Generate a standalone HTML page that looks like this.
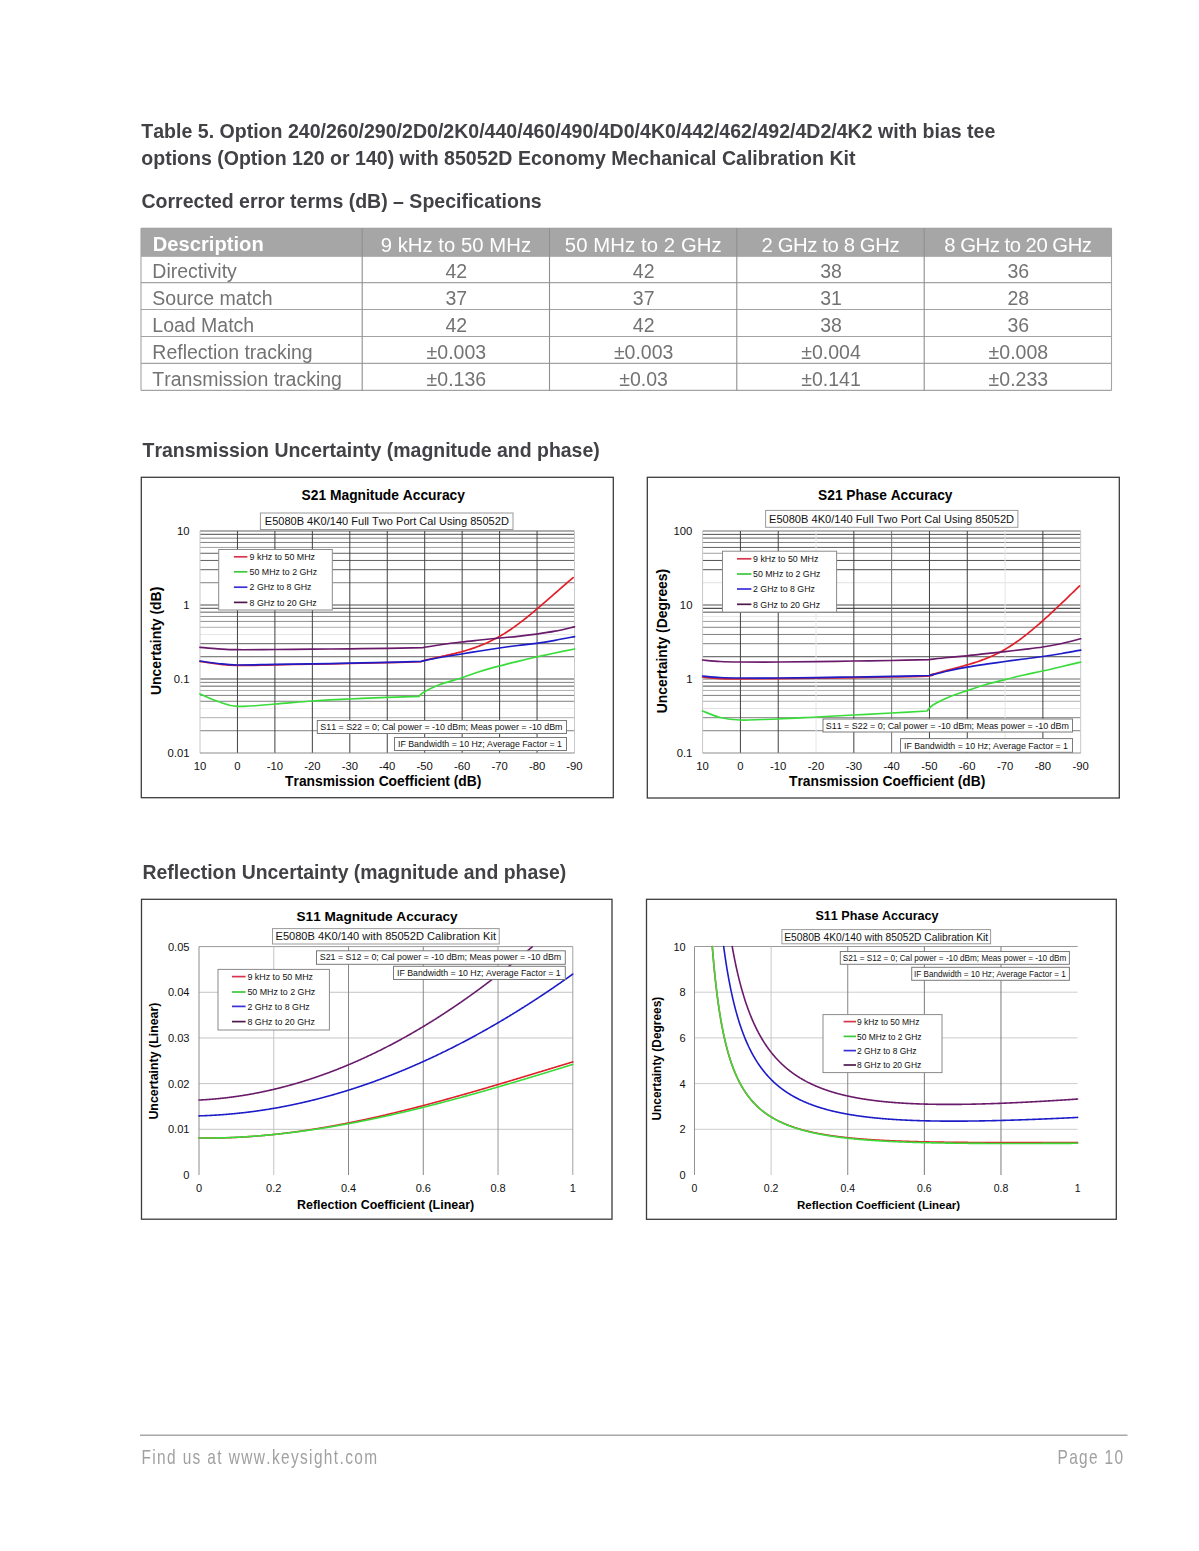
<!DOCTYPE html>
<html><head><meta charset="utf-8"><title>Keysight page 10</title>
<style>
html,body{margin:0;padding:0;background:#fff;}
body{width:1199px;height:1551px;overflow:hidden;}
svg{display:block;font-family:"Liberation Sans", sans-serif;filter:blur(0.35px);font-kerning:none;}
</style></head><body>
<svg width="1199" height="1551" viewBox="0 0 1199 1551">
<text x="141.30" y="137.80" font-size="19.561" font-weight="bold" fill="#414146" >Table 5. Option 240/260/290/2D0/2K0/440/460/490/4D0/4K0/442/462/492/4D2/4K2 with bias tee</text>
<text x="141.30" y="165.00" font-size="19.550" font-weight="bold" fill="#414146" >options (Option 120 or 140) with 85052D Economy Mechanical Calibration Kit</text>
<text x="141.50" y="208.00" font-size="19.532" font-weight="bold" fill="#414146" >Corrected error terms (dB) – Specifications</text>
<rect x="141.00" y="228.20" width="970.50" height="28.10" fill="#a6a6a6"/>
<line x1="141.00" y1="256.30" x2="1111.50" y2="256.30" stroke="#a3a3a3" stroke-width="1.1" />
<line x1="141.00" y1="282.60" x2="1111.50" y2="282.60" stroke="#a3a3a3" stroke-width="1.1" />
<line x1="141.00" y1="309.50" x2="1111.50" y2="309.50" stroke="#a3a3a3" stroke-width="1.1" />
<line x1="141.00" y1="336.50" x2="1111.50" y2="336.50" stroke="#a3a3a3" stroke-width="1.1" />
<line x1="141.00" y1="363.40" x2="1111.50" y2="363.40" stroke="#a3a3a3" stroke-width="1.1" />
<line x1="141.00" y1="390.40" x2="1111.50" y2="390.40" stroke="#a3a3a3" stroke-width="1.1" />
<line x1="141.00" y1="228.20" x2="1111.50" y2="228.20" stroke="#9c9c9c" stroke-width="1.1" />
<line x1="141.00" y1="228.20" x2="141.00" y2="390.40" stroke="#a3a3a3" stroke-width="1.1" />
<line x1="362.20" y1="228.20" x2="362.20" y2="390.40" stroke="#8f8f8f" stroke-width="1.1" />
<line x1="549.50" y1="228.20" x2="549.50" y2="390.40" stroke="#8f8f8f" stroke-width="1.1" />
<line x1="736.80" y1="228.20" x2="736.80" y2="390.40" stroke="#8f8f8f" stroke-width="1.1" />
<line x1="924.20" y1="228.20" x2="924.20" y2="390.40" stroke="#8f8f8f" stroke-width="1.1" />
<line x1="1111.50" y1="228.20" x2="1111.50" y2="390.40" stroke="#a3a3a3" stroke-width="1.1" />
<text x="152.80" y="251.00" font-size="20.182" font-weight="bold" fill="#fff" >Description</text>
<text x="380.70" y="251.50" font-size="20.300" font-weight="normal" fill="#fff"  textLength="150.32" lengthAdjust="spacing">9 kHz to 50 MHz</text>
<text x="564.80" y="251.50" font-size="20.300" font-weight="normal" fill="#fff"  textLength="156.88" lengthAdjust="spacing">50 MHz to 2 GHz</text>
<text x="761.50" y="251.50" font-size="20.300" font-weight="normal" fill="#fff"  textLength="138.15" lengthAdjust="spacing">2 GHz to 8 GHz</text>
<text x="944.30" y="251.50" font-size="20.300" font-weight="normal" fill="#fff"  textLength="147.67" lengthAdjust="spacing">8 GHz to 20 GHz</text>
<text x="152.30" y="278.00" font-size="19.500" font-weight="normal" fill="#737373" >Directivity</text>
<text x="445.53" y="278.00" font-size="19.500" font-weight="normal" fill="#737373" >42</text>
<text x="632.83" y="278.00" font-size="19.500" font-weight="normal" fill="#737373" >42</text>
<text x="820.18" y="278.00" font-size="19.500" font-weight="normal" fill="#737373" >38</text>
<text x="1007.53" y="278.00" font-size="19.500" font-weight="normal" fill="#737373" >36</text>
<text x="152.30" y="304.90" font-size="19.500" font-weight="normal" fill="#737373" >Source match</text>
<text x="445.53" y="304.90" font-size="19.500" font-weight="normal" fill="#737373" >37</text>
<text x="632.83" y="304.90" font-size="19.500" font-weight="normal" fill="#737373" >37</text>
<text x="820.18" y="304.90" font-size="19.500" font-weight="normal" fill="#737373" >31</text>
<text x="1007.53" y="304.90" font-size="19.500" font-weight="normal" fill="#737373" >28</text>
<text x="152.30" y="331.80" font-size="19.500" font-weight="normal" fill="#737373" >Load Match</text>
<text x="445.53" y="331.80" font-size="19.500" font-weight="normal" fill="#737373" >42</text>
<text x="632.83" y="331.80" font-size="19.500" font-weight="normal" fill="#737373" >42</text>
<text x="820.18" y="331.80" font-size="19.500" font-weight="normal" fill="#737373" >38</text>
<text x="1007.53" y="331.80" font-size="19.500" font-weight="normal" fill="#737373" >36</text>
<text x="152.30" y="358.70" font-size="19.500" font-weight="normal" fill="#737373" >Reflection tracking</text>
<text x="426.61" y="358.70" font-size="19.500" font-weight="normal" fill="#737373" >±0.003</text>
<text x="613.91" y="358.70" font-size="19.500" font-weight="normal" fill="#737373" >±0.003</text>
<text x="801.26" y="358.70" font-size="19.500" font-weight="normal" fill="#737373" >±0.004</text>
<text x="988.61" y="358.70" font-size="19.500" font-weight="normal" fill="#737373" >±0.008</text>
<text x="152.30" y="385.60" font-size="19.500" font-weight="normal" fill="#737373" >Transmission tracking</text>
<text x="426.61" y="385.60" font-size="19.500" font-weight="normal" fill="#737373" >±0.136</text>
<text x="619.32" y="385.60" font-size="19.500" font-weight="normal" fill="#737373" >±0.03</text>
<text x="801.26" y="385.60" font-size="19.500" font-weight="normal" fill="#737373" >±0.141</text>
<text x="988.61" y="385.60" font-size="19.500" font-weight="normal" fill="#737373" >±0.233</text>
<text x="142.50" y="457.20" font-size="19.464" font-weight="bold" fill="#414146" >Transmission Uncertainty (magnitude and phase)</text>
<text x="142.50" y="878.80" font-size="19.428" font-weight="bold" fill="#414146" >Reflection Uncertainty (magnitude and phase)</text>
<line x1="140.00" y1="1435.30" x2="1127.50" y2="1435.30" stroke="#a8a8a8" stroke-width="1.4" />
<text x="141.5" y="1463.75" font-size="19.8" fill="#a0a0a0" transform="translate(141.5,0) scale(0.78,1) translate(-141.5,0)" textLength="302" lengthAdjust="spacing">Find us at www.keysight.com</text>
<text x="1057.5" y="1463.75" font-size="19.8" fill="#a0a0a0" transform="translate(1057.5,0) scale(0.78,1) translate(-1057.5,0)" textLength="84" lengthAdjust="spacing">Page 10</text>
<rect x="141.30" y="477.30" width="472.00" height="320.40" stroke="#3c3c3c" stroke-width="1.3" fill="#fff" />
<line x1="200.00" y1="582.72" x2="574.50" y2="582.72" stroke="#808080" stroke-width="1" />
<line x1="200.00" y1="569.69" x2="574.50" y2="569.69" stroke="#606060" stroke-width="1" />
<line x1="200.00" y1="560.45" x2="574.50" y2="560.45" stroke="#606060" stroke-width="1" />
<line x1="200.00" y1="553.28" x2="574.50" y2="553.28" stroke="#606060" stroke-width="1" />
<line x1="200.00" y1="547.42" x2="574.50" y2="547.42" stroke="#a0a0a0" stroke-width="1" />
<line x1="200.00" y1="542.46" x2="574.50" y2="542.46" stroke="#808080" stroke-width="1" />
<line x1="200.00" y1="538.17" x2="574.50" y2="538.17" stroke="#808080" stroke-width="1" />
<line x1="200.00" y1="534.39" x2="574.50" y2="534.39" stroke="#707070" stroke-width="1.2" />
<line x1="200.00" y1="531.00" x2="574.50" y2="531.00" stroke="#606060" stroke-width="1.1" />
<line x1="200.00" y1="656.72" x2="574.50" y2="656.72" stroke="#606060" stroke-width="1" />
<line x1="200.00" y1="643.69" x2="574.50" y2="643.69" stroke="#606060" stroke-width="1" />
<line x1="200.00" y1="634.45" x2="574.50" y2="634.45" stroke="#e6e6e6" stroke-width="1" />
<line x1="200.00" y1="627.28" x2="574.50" y2="627.28" stroke="#b0b0b0" stroke-width="1" />
<line x1="200.00" y1="621.42" x2="574.50" y2="621.42" stroke="#909090" stroke-width="1" />
<line x1="200.00" y1="616.46" x2="574.50" y2="616.46" stroke="#909090" stroke-width="1" />
<line x1="200.00" y1="612.17" x2="574.50" y2="612.17" stroke="#606060" stroke-width="1" />
<line x1="200.00" y1="608.39" x2="574.50" y2="608.39" stroke="#707070" stroke-width="1.3" />
<line x1="200.00" y1="605.00" x2="574.50" y2="605.00" stroke="#505050" stroke-width="1.1" />
<line x1="200.00" y1="730.72" x2="574.50" y2="730.72" stroke="#808080" stroke-width="1" />
<line x1="200.00" y1="717.69" x2="574.50" y2="717.69" stroke="#b0b0b0" stroke-width="1" />
<line x1="200.00" y1="708.45" x2="574.50" y2="708.45" stroke="#f0f0f0" stroke-width="1" />
<line x1="200.00" y1="701.28" x2="574.50" y2="701.28" stroke="#808080" stroke-width="1" />
<line x1="200.00" y1="695.42" x2="574.50" y2="695.42" stroke="#808080" stroke-width="1" />
<line x1="200.00" y1="690.46" x2="574.50" y2="690.46" stroke="#b0b0b0" stroke-width="1" />
<line x1="200.00" y1="686.17" x2="574.50" y2="686.17" stroke="#606060" stroke-width="1" />
<line x1="200.00" y1="682.39" x2="574.50" y2="682.39" stroke="#808080" stroke-width="1" />
<line x1="200.00" y1="679.00" x2="574.50" y2="679.00" stroke="#505050" stroke-width="1.1" />
<line x1="200.00" y1="531.00" x2="200.00" y2="753.00" stroke="#c8c8c8" stroke-width="1" />
<line x1="237.45" y1="531.00" x2="237.45" y2="753.00" stroke="#404040" stroke-width="1" />
<line x1="274.90" y1="531.00" x2="274.90" y2="753.00" stroke="#404040" stroke-width="1" />
<line x1="312.35" y1="531.00" x2="312.35" y2="753.00" stroke="#404040" stroke-width="1" />
<line x1="349.80" y1="531.00" x2="349.80" y2="753.00" stroke="#404040" stroke-width="1" />
<line x1="387.25" y1="531.00" x2="387.25" y2="753.00" stroke="#404040" stroke-width="1" />
<line x1="424.70" y1="531.00" x2="424.70" y2="753.00" stroke="#404040" stroke-width="1" />
<line x1="462.15" y1="531.00" x2="462.15" y2="753.00" stroke="#404040" stroke-width="1" />
<line x1="499.60" y1="531.00" x2="499.60" y2="753.00" stroke="#404040" stroke-width="1" />
<line x1="537.05" y1="531.00" x2="537.05" y2="753.00" stroke="#404040" stroke-width="1" />
<line x1="574.50" y1="531.00" x2="574.50" y2="753.00" stroke="#c8c8c8" stroke-width="1" />
<line x1="200.00" y1="753.00" x2="574.50" y2="753.00" stroke="#8c8c8c" stroke-width="1.1" />
<path d="M200.00,661.40 C203.00,661.83 211.77,663.33 218.00,664.00 C224.23,664.67 227.93,665.27 237.40,665.40 C246.87,665.53 262.33,665.00 274.80,664.80 C287.27,664.60 299.73,664.42 312.20,664.20 C324.67,663.98 337.13,663.75 349.60,663.50 C362.07,663.25 375.10,663.02 387.00,662.70 C398.90,662.38 415.33,661.78 421.00,661.60 C421.62,661.38 423.83,660.54 424.70,660.26 C425.57,659.98 425.70,660.04 426.20,659.92 C426.70,659.81 427.20,659.70 427.70,659.59 C428.20,659.47 428.70,659.36 429.20,659.25 C429.70,659.13 430.20,659.02 430.70,658.90 C431.20,658.79 431.70,658.67 432.20,658.56 C432.70,658.44 433.20,658.33 433.70,658.21 C434.20,658.09 434.70,657.98 435.20,657.86 C435.70,657.74 436.20,657.62 436.70,657.50 C437.20,657.39 437.70,657.27 438.20,657.15 C438.70,657.03 439.20,656.90 439.70,656.79 C440.20,656.67 440.70,656.57 441.20,656.47 C441.70,656.36 442.20,656.26 442.70,656.16 C443.20,656.05 443.70,655.95 444.20,655.84 C444.70,655.74 445.20,655.63 445.70,655.52 C446.20,655.42 446.70,655.31 447.20,655.20 C447.70,655.09 448.20,654.98 448.70,654.87 C449.20,654.75 449.70,654.64 450.20,654.53 C450.70,654.41 451.20,654.30 451.70,654.18 C452.20,654.07 452.70,653.95 453.20,653.83 C453.70,653.71 454.20,653.59 454.70,653.47 C455.20,653.35 455.70,653.23 456.20,653.10 C456.70,652.98 457.20,652.85 457.70,652.73 C458.20,652.60 458.70,652.47 459.20,652.34 C459.70,652.21 460.20,652.08 460.70,651.95 C461.20,651.81 461.70,651.68 462.20,651.54 C462.70,651.41 463.20,651.27 463.70,651.13 C464.20,650.99 464.70,650.85 465.20,650.70 C465.70,650.56 466.20,650.41 466.70,650.26 C467.20,650.12 467.70,649.97 468.20,649.81 C468.70,649.66 469.20,649.51 469.70,649.35 C470.20,649.19 470.70,649.03 471.20,648.87 C471.70,648.71 472.20,648.54 472.70,648.38 C473.20,648.21 473.70,648.04 474.20,647.87 C474.70,647.69 475.20,647.52 475.70,647.34 C476.20,647.16 476.70,646.98 477.20,646.80 C477.70,646.61 478.20,646.43 478.70,646.24 C479.20,646.05 479.70,645.86 480.20,645.66 C480.70,645.47 481.20,645.27 481.70,645.07 C482.20,644.87 482.70,644.67 483.20,644.46 C483.70,644.25 484.20,644.04 484.70,643.83 C485.20,643.61 485.70,643.40 486.20,643.18 C486.70,642.96 487.20,642.73 487.70,642.50 C488.20,642.28 488.70,642.04 489.20,641.81 C489.70,641.57 490.20,641.33 490.70,641.09 C491.20,640.85 491.70,640.60 492.20,640.35 C492.70,640.10 493.20,639.85 493.70,639.59 C494.20,639.33 494.70,639.07 495.20,638.80 C495.70,638.54 496.20,638.27 496.70,637.99 C497.20,637.72 497.70,637.44 498.20,637.16 C498.70,636.88 499.20,636.59 499.70,636.31 C500.20,636.02 500.70,635.73 501.20,635.44 C501.70,635.15 502.20,634.85 502.70,634.55 C503.20,634.25 503.70,633.95 504.20,633.64 C504.70,633.33 505.20,633.02 505.70,632.70 C506.20,632.39 506.70,632.07 507.20,631.74 C507.70,631.42 508.20,631.09 508.70,630.76 C509.20,630.43 509.70,630.10 510.20,629.76 C510.70,629.42 511.20,629.08 511.70,628.73 C512.20,628.39 512.70,628.04 513.20,627.68 C513.70,627.33 514.20,626.98 514.70,626.62 C515.20,626.26 515.70,625.90 516.20,625.53 C516.70,625.17 517.20,624.80 517.70,624.43 C518.20,624.06 518.70,623.68 519.20,623.31 C519.70,622.93 520.20,622.56 520.70,622.17 C521.20,621.79 521.70,621.41 522.20,621.02 C522.70,620.64 523.20,620.25 523.70,619.86 C524.20,619.46 524.70,619.07 525.20,618.67 C525.70,618.28 526.20,617.88 526.70,617.48 C527.20,617.08 527.70,616.67 528.20,616.27 C528.70,615.86 529.20,615.46 529.70,615.05 C530.20,614.64 530.70,614.23 531.20,613.82 C531.70,613.40 532.20,612.99 532.70,612.57 C533.20,612.16 533.70,611.74 534.20,611.32 C534.70,610.90 535.20,610.48 535.70,610.06 C536.20,609.64 536.70,609.21 537.20,608.79 C537.70,608.36 538.20,607.93 538.70,607.50 C539.20,607.07 539.70,606.65 540.20,606.21 C540.70,605.78 541.20,605.35 541.70,604.92 C542.20,604.49 542.70,604.06 543.20,603.62 C543.70,603.19 544.20,602.76 544.70,602.32 C545.20,601.89 545.70,601.45 546.20,601.02 C546.70,600.58 547.20,600.15 547.70,599.71 C548.20,599.28 548.70,598.84 549.20,598.40 C549.70,597.97 550.20,597.53 550.70,597.09 C551.20,596.65 551.70,596.22 552.20,595.78 C552.70,595.34 553.20,594.91 553.70,594.47 C554.20,594.03 554.70,593.59 555.20,593.16 C555.70,592.72 556.20,592.28 556.70,591.84 C557.20,591.40 557.70,590.97 558.20,590.53 C558.70,590.09 559.20,589.66 559.70,589.22 C560.20,588.78 560.70,588.35 561.20,587.91 C561.70,587.47 562.20,587.04 562.70,586.60 C563.20,586.17 563.70,585.73 564.20,585.30 C564.70,584.87 565.20,584.43 565.70,584.00 C566.20,583.57 566.70,583.13 567.20,582.70 C567.70,582.27 568.20,581.84 568.70,581.41 C569.20,580.98 569.70,580.55 570.20,580.12 C570.70,579.69 571.20,579.26 571.70,578.83 C572.20,578.41 572.95,577.77 573.20,577.55" fill="none" stroke="#e0202a" stroke-width="1.7" stroke-linejoin="round" stroke-linecap="round"/>
<path d="M200.00,694.00 C203.00,695.25 211.77,699.43 218.00,701.50 C224.23,703.57 227.93,705.98 237.40,706.40 C246.87,706.82 262.33,704.90 274.80,704.00 C287.27,703.10 299.73,701.83 312.20,701.00 C324.67,700.17 337.13,699.60 349.60,699.00 C362.07,698.40 375.43,697.83 387.00,697.40 C398.57,696.97 413.67,696.57 419.00,696.40 C419.83,695.67 420.50,693.98 424.00,692.00 C427.50,690.02 433.77,686.83 440.00,684.50 C446.23,682.17 454.73,680.17 461.40,678.00 C468.07,675.83 473.67,673.50 480.00,671.50 C486.33,669.50 493.07,667.70 499.40,666.00 C505.73,664.30 511.83,662.80 518.00,661.30 C524.17,659.80 530.23,658.38 536.40,657.00 C542.57,655.62 548.65,654.33 555.00,653.00 C561.35,651.67 571.25,649.67 574.50,649.00" fill="none" stroke="#3adc3a" stroke-width="1.7" stroke-linejoin="round" stroke-linecap="round"/>
<path d="M200.00,661.00 C203.00,661.42 211.77,662.83 218.00,663.50 C224.23,664.17 227.93,664.85 237.40,665.00 C246.87,665.15 262.33,664.58 274.80,664.40 C287.27,664.22 299.73,664.10 312.20,663.90 C324.67,663.70 337.13,663.45 349.60,663.20 C362.07,662.95 375.10,662.70 387.00,662.40 C398.90,662.10 415.33,661.57 421.00,661.40 C424.17,660.75 433.27,658.73 440.00,657.50 C446.73,656.27 454.73,655.08 461.40,654.00 C468.07,652.92 473.67,652.00 480.00,651.00 C486.33,650.00 493.07,648.92 499.40,648.00 C505.73,647.08 511.83,646.28 518.00,645.50 C524.17,644.72 530.23,644.17 536.40,643.30 C542.57,642.43 548.65,641.42 555.00,640.30 C561.35,639.18 571.25,637.22 574.50,636.60" fill="none" stroke="#1c1cc8" stroke-width="1.7" stroke-linejoin="round" stroke-linecap="round"/>
<path d="M200.00,647.40 C203.00,647.63 211.77,648.42 218.00,648.80 C224.23,649.18 227.93,649.58 237.40,649.70 C246.87,649.82 262.33,649.58 274.80,649.50 C287.27,649.42 299.73,649.32 312.20,649.20 C324.67,649.08 337.13,648.95 349.60,648.80 C362.07,648.65 374.77,648.50 387.00,648.30 C399.23,648.10 417.00,647.72 423.00,647.60 C426.17,647.08 435.60,645.43 442.00,644.50 C448.40,643.57 455.07,642.75 461.40,642.00 C467.73,641.25 473.67,640.67 480.00,640.00 C486.33,639.33 493.07,638.62 499.40,638.00 C505.73,637.38 511.83,636.95 518.00,636.30 C524.17,635.65 530.23,634.95 536.40,634.10 C542.57,633.25 548.65,632.42 555.00,631.20 C561.35,629.98 571.25,627.53 574.50,626.80" fill="none" stroke="#6a1a6a" stroke-width="1.7" stroke-linejoin="round" stroke-linecap="round"/>
<rect x="218.70" y="549.50" width="113.60" height="60.50" stroke="#8a8a8a" stroke-width="1" fill="#fff" />
<line x1="233.90" y1="556.80" x2="247.40" y2="556.80" stroke="#d8344e" stroke-width="1.7" />
<text x="249.60" y="560.00" font-size="8.850" font-weight="normal" fill="#111" >9 kHz to 50 MHz</text>
<line x1="233.90" y1="571.80" x2="247.40" y2="571.80" stroke="#3cc83c" stroke-width="1.7" />
<text x="249.60" y="575.00" font-size="8.814" font-weight="normal" fill="#111" >50 MHz to 2 GHz</text>
<line x1="233.90" y1="587.20" x2="247.40" y2="587.20" stroke="#3a30d8" stroke-width="1.7" />
<text x="249.60" y="590.40" font-size="8.782" font-weight="normal" fill="#111" >2 GHz to 8 GHz</text>
<line x1="233.90" y1="602.40" x2="247.40" y2="602.40" stroke="#4e1a4c" stroke-width="1.7" />
<text x="249.60" y="605.60" font-size="8.825" font-weight="normal" fill="#111" >8 GHz to 20 GHz</text>
<rect x="317.30" y="720.50" width="249.20" height="13.00" stroke="#7a7a7a" stroke-width="1" fill="#fff" />
<text x="320.30" y="729.80" font-size="8.892" font-weight="normal" fill="#111" >S11 = S22 = 0; Cal power = -10 dBm; Meas power = -10 dBm</text>
<rect x="394.50" y="737.50" width="172.00" height="13.00" stroke="#7a7a7a" stroke-width="1" fill="#fff" />
<text x="398.00" y="746.70" font-size="8.798" font-weight="normal" fill="#111" >IF Bandwidth = 10 Hz; Average Factor = 1</text>
<rect x="260.40" y="513.00" width="252.60" height="16.50" stroke="#9a9a9a" stroke-width="1" fill="#fff" />
<text x="264.80" y="525.10" font-size="11.046" font-weight="normal" fill="#111" >E5080B 4K0/140 Full Two Port Cal Using 85052D</text>
<text x="301.60" y="500.20" font-size="13.801" font-weight="bold" fill="#000" >S21 Magnitude Accuracy</text>
<text x="176.96" y="535.00" font-size="11.300" font-weight="normal" fill="#111" >10</text>
<text x="183.23" y="609.00" font-size="11.300" font-weight="normal" fill="#111" >1</text>
<text x="173.79" y="683.00" font-size="11.300" font-weight="normal" fill="#111" >0.1</text>
<text x="167.52" y="757.00" font-size="11.300" font-weight="normal" fill="#111" >0.01</text>
<text x="193.73" y="770.30" font-size="11.300" font-weight="normal" fill="#111" >10</text>
<text x="234.31" y="770.30" font-size="11.300" font-weight="normal" fill="#111" >0</text>
<text x="266.74" y="770.30" font-size="11.300" font-weight="normal" fill="#111" >-10</text>
<text x="304.19" y="770.30" font-size="11.300" font-weight="normal" fill="#111" >-20</text>
<text x="341.64" y="770.30" font-size="11.300" font-weight="normal" fill="#111" >-30</text>
<text x="379.09" y="770.30" font-size="11.300" font-weight="normal" fill="#111" >-40</text>
<text x="416.54" y="770.30" font-size="11.300" font-weight="normal" fill="#111" >-50</text>
<text x="453.99" y="770.30" font-size="11.300" font-weight="normal" fill="#111" >-60</text>
<text x="491.44" y="770.30" font-size="11.300" font-weight="normal" fill="#111" >-70</text>
<text x="528.89" y="770.30" font-size="11.300" font-weight="normal" fill="#111" >-80</text>
<text x="566.34" y="770.30" font-size="11.300" font-weight="normal" fill="#111" >-90</text>
<text x="285.10" y="786.30" font-size="13.807" font-weight="bold" fill="#000" >Transmission Coefficient (dB)</text>
<g transform="translate(161.4,640.8) rotate(-90)">
<text x="-54.20" y="0.00" font-size="13.933" font-weight="bold" fill="#000" >Uncertainty (dB)</text>
</g>
<rect x="647.30" y="477.30" width="472.00" height="320.70" stroke="#3c3c3c" stroke-width="1.3" fill="#fff" />
<line x1="702.60" y1="582.72" x2="1080.70" y2="582.72" stroke="#e0e0e0" stroke-width="1" />
<line x1="702.60" y1="569.69" x2="1080.70" y2="569.69" stroke="#505050" stroke-width="1" />
<line x1="702.60" y1="560.45" x2="1080.70" y2="560.45" stroke="#505050" stroke-width="1" />
<line x1="702.60" y1="553.28" x2="1080.70" y2="553.28" stroke="#a0a0a0" stroke-width="1" />
<line x1="702.60" y1="547.42" x2="1080.70" y2="547.42" stroke="#606060" stroke-width="1" />
<line x1="702.60" y1="542.46" x2="1080.70" y2="542.46" stroke="#808080" stroke-width="1" />
<line x1="702.60" y1="538.17" x2="1080.70" y2="538.17" stroke="#808080" stroke-width="1.4" />
<line x1="702.60" y1="534.39" x2="1080.70" y2="534.39" stroke="#505050" stroke-width="1" />
<line x1="702.60" y1="531.00" x2="1080.70" y2="531.00" stroke="#707070" stroke-width="1.1" />
<line x1="702.60" y1="656.72" x2="1080.70" y2="656.72" stroke="#505050" stroke-width="1" />
<line x1="702.60" y1="643.69" x2="1080.70" y2="643.69" stroke="#808080" stroke-width="1" />
<line x1="702.60" y1="634.45" x2="1080.70" y2="634.45" stroke="#808080" stroke-width="1" />
<line x1="702.60" y1="627.28" x2="1080.70" y2="627.28" stroke="#808080" stroke-width="1" />
<line x1="702.60" y1="621.42" x2="1080.70" y2="621.42" stroke="#a0a0a0" stroke-width="1" />
<line x1="702.60" y1="616.46" x2="1080.70" y2="616.46" stroke="#e8e8e8" stroke-width="1" />
<line x1="702.60" y1="612.17" x2="1080.70" y2="612.17" stroke="#505050" stroke-width="1" />
<line x1="702.60" y1="608.39" x2="1080.70" y2="608.39" stroke="#505050" stroke-width="1.3" />
<line x1="702.60" y1="605.00" x2="1080.70" y2="605.00" stroke="#505050" stroke-width="1.1" />
<line x1="702.60" y1="730.72" x2="1080.70" y2="730.72" stroke="#808080" stroke-width="1" />
<line x1="702.60" y1="717.69" x2="1080.70" y2="717.69" stroke="#808080" stroke-width="1" />
<line x1="702.60" y1="708.45" x2="1080.70" y2="708.45" stroke="#e0e0e0" stroke-width="1" />
<line x1="702.60" y1="701.28" x2="1080.70" y2="701.28" stroke="#b0b0b0" stroke-width="1" />
<line x1="702.60" y1="695.42" x2="1080.70" y2="695.42" stroke="#808080" stroke-width="1" />
<line x1="702.60" y1="690.46" x2="1080.70" y2="690.46" stroke="#b0b0b0" stroke-width="1" />
<line x1="702.60" y1="686.17" x2="1080.70" y2="686.17" stroke="#707070" stroke-width="1.2" />
<line x1="702.60" y1="682.39" x2="1080.70" y2="682.39" stroke="#808080" stroke-width="1" />
<line x1="702.60" y1="679.00" x2="1080.70" y2="679.00" stroke="#707070" stroke-width="1.1" />
<line x1="702.60" y1="531.00" x2="702.60" y2="753.00" stroke="#c8c8c8" stroke-width="1" />
<line x1="740.41" y1="531.00" x2="740.41" y2="753.00" stroke="#404040" stroke-width="1" />
<line x1="778.22" y1="531.00" x2="778.22" y2="753.00" stroke="#404040" stroke-width="1" />
<line x1="816.03" y1="531.00" x2="816.03" y2="753.00" stroke="#e6e6e6" stroke-width="1" />
<line x1="853.84" y1="531.00" x2="853.84" y2="753.00" stroke="#404040" stroke-width="1" />
<line x1="891.65" y1="531.00" x2="891.65" y2="753.00" stroke="#707070" stroke-width="1" />
<line x1="929.46" y1="531.00" x2="929.46" y2="753.00" stroke="#404040" stroke-width="1" />
<line x1="967.27" y1="531.00" x2="967.27" y2="753.00" stroke="#404040" stroke-width="1" />
<line x1="1005.08" y1="531.00" x2="1005.08" y2="753.00" stroke="#e6e6e6" stroke-width="1" />
<line x1="1042.89" y1="531.00" x2="1042.89" y2="753.00" stroke="#404040" stroke-width="1" />
<line x1="1080.70" y1="531.00" x2="1080.70" y2="753.00" stroke="#c8c8c8" stroke-width="1" />
<line x1="702.60" y1="753.00" x2="1080.70" y2="753.00" stroke="#8c8c8c" stroke-width="1.1" />
<path d="M702.60,677.00 C705.50,677.27 713.70,678.30 720.00,678.60 C726.30,678.90 730.70,678.80 740.40,678.80 C750.10,678.80 765.60,678.70 778.20,678.60 C790.80,678.50 803.40,678.37 816.00,678.20 C828.60,678.03 841.20,677.80 853.80,677.60 C866.40,677.40 879.00,677.30 891.60,677.00 C904.20,676.70 922.83,676.19 929.40,675.80 C935.97,675.41 930.73,674.84 931.00,674.65 C931.25,674.59 932.00,674.39 932.50,674.26 C933.00,674.13 933.50,673.99 934.00,673.86 C934.50,673.73 935.00,673.60 935.50,673.46 C936.00,673.33 936.50,673.19 937.00,673.06 C937.50,672.92 938.00,672.79 938.50,672.65 C939.00,672.52 939.50,672.38 940.00,672.25 C940.50,672.11 941.00,671.97 941.50,671.84 C942.00,671.70 942.50,671.56 943.00,671.42 C943.50,671.28 944.00,671.14 944.50,671.00 C945.00,670.86 945.50,670.72 946.00,670.58 C946.50,670.44 947.00,670.29 947.50,670.16 C948.00,670.02 948.50,669.90 949.00,669.77 C949.50,669.64 950.00,669.52 950.50,669.40 C951.00,669.27 951.50,669.15 952.00,669.02 C952.50,668.89 953.00,668.77 953.50,668.64 C954.00,668.51 954.50,668.38 955.00,668.25 C955.50,668.12 956.00,667.98 956.50,667.85 C957.00,667.72 957.50,667.58 958.00,667.45 C958.50,667.31 959.00,667.18 959.50,667.04 C960.00,666.90 960.50,666.76 961.00,666.62 C961.50,666.48 962.00,666.34 962.50,666.20 C963.00,666.05 963.50,665.91 964.00,665.76 C964.50,665.62 965.00,665.47 965.50,665.32 C966.00,665.17 966.50,665.01 967.00,664.87 C967.50,664.72 968.00,664.59 968.50,664.45 C969.00,664.31 969.50,664.16 970.00,664.02 C970.50,663.88 971.00,663.73 971.50,663.58 C972.00,663.44 972.50,663.29 973.00,663.13 C973.50,662.98 974.00,662.83 974.50,662.67 C975.00,662.51 975.50,662.35 976.00,662.19 C976.50,662.03 977.00,661.86 977.50,661.69 C978.00,661.53 978.50,661.36 979.00,661.19 C979.50,661.01 980.00,660.84 980.50,660.66 C981.00,660.48 981.50,660.30 982.00,660.12 C982.50,659.93 983.00,659.74 983.50,659.55 C984.00,659.36 984.50,659.17 985.00,658.97 C985.50,658.78 986.00,658.58 986.50,658.38 C987.00,658.18 987.50,657.98 988.00,657.78 C988.50,657.58 989.00,657.37 989.50,657.16 C990.00,656.95 990.50,656.73 991.00,656.51 C991.50,656.30 992.00,656.07 992.50,655.85 C993.00,655.62 993.50,655.39 994.00,655.16 C994.50,654.92 995.00,654.69 995.50,654.45 C996.00,654.20 996.50,653.96 997.00,653.71 C997.50,653.46 998.00,653.21 998.50,652.95 C999.00,652.69 999.50,652.43 1000.00,652.17 C1000.50,651.90 1001.00,651.63 1001.50,651.36 C1002.00,651.08 1002.50,650.80 1003.00,650.52 C1003.50,650.24 1004.00,649.95 1004.50,649.67 C1005.00,649.38 1005.50,649.08 1006.00,648.79 C1006.50,648.49 1007.00,648.19 1007.50,647.89 C1008.00,647.58 1008.50,647.28 1009.00,646.96 C1009.50,646.65 1010.00,646.33 1010.50,646.01 C1011.00,645.69 1011.50,645.37 1012.00,645.04 C1012.50,644.71 1013.00,644.38 1013.50,644.04 C1014.00,643.71 1014.50,643.37 1015.00,643.02 C1015.50,642.68 1016.00,642.33 1016.50,641.98 C1017.00,641.63 1017.50,641.27 1018.00,640.91 C1018.50,640.56 1019.00,640.19 1019.50,639.83 C1020.00,639.46 1020.50,639.09 1021.00,638.72 C1021.50,638.35 1022.00,637.97 1022.50,637.59 C1023.00,637.21 1023.50,636.83 1024.00,636.44 C1024.50,636.06 1025.00,635.67 1025.50,635.28 C1026.00,634.89 1026.50,634.49 1027.00,634.09 C1027.50,633.69 1028.00,633.29 1028.50,632.89 C1029.00,632.49 1029.50,632.08 1030.00,631.67 C1030.50,631.26 1031.00,630.85 1031.50,630.44 C1032.00,630.02 1032.50,629.61 1033.00,629.19 C1033.50,628.77 1034.00,628.35 1034.50,627.92 C1035.00,627.50 1035.50,627.08 1036.00,626.65 C1036.50,626.22 1037.00,625.79 1037.50,625.36 C1038.00,624.93 1038.50,624.49 1039.00,624.06 C1039.50,623.62 1040.00,623.18 1040.50,622.74 C1041.00,622.30 1041.50,621.86 1042.00,621.42 C1042.50,620.97 1043.00,620.53 1043.50,620.08 C1044.00,619.63 1044.50,619.18 1045.00,618.73 C1045.50,618.28 1046.00,617.83 1046.50,617.37 C1047.00,616.92 1047.50,616.46 1048.00,616.01 C1048.50,615.55 1049.00,615.09 1049.50,614.63 C1050.00,614.17 1050.50,613.71 1051.00,613.25 C1051.50,612.79 1052.00,612.33 1052.50,611.86 C1053.00,611.40 1053.50,610.93 1054.00,610.47 C1054.50,610.00 1055.00,609.53 1055.50,609.06 C1056.00,608.60 1056.50,608.13 1057.00,607.66 C1057.50,607.19 1058.00,606.71 1058.50,606.24 C1059.00,605.77 1059.50,605.30 1060.00,604.82 C1060.50,604.35 1061.00,603.87 1061.50,603.39 C1062.00,602.92 1062.50,602.44 1063.00,601.96 C1063.50,601.48 1064.00,601.00 1064.50,600.52 C1065.00,600.04 1065.50,599.56 1066.00,599.08 C1066.50,598.60 1067.00,598.11 1067.50,597.63 C1068.00,597.15 1068.50,596.66 1069.00,596.18 C1069.50,595.69 1070.00,595.20 1070.50,594.72 C1071.00,594.23 1071.50,593.74 1072.00,593.25 C1072.50,592.76 1073.00,592.27 1073.50,591.78 C1074.00,591.29 1074.50,590.80 1075.00,590.31 C1075.50,589.82 1076.00,589.32 1076.50,588.83 C1077.00,588.33 1077.50,587.84 1078.00,587.34 C1078.50,586.85 1079.25,586.10 1079.50,585.85" fill="none" stroke="#e0202a" stroke-width="1.7" stroke-linejoin="round" stroke-linecap="round"/>
<path d="M702.60,711.00 C705.50,712.08 713.70,716.00 720.00,717.50 C726.30,719.00 730.70,719.75 740.40,720.00 C750.10,720.25 765.60,719.50 778.20,719.00 C790.80,718.50 803.40,717.67 816.00,717.00 C828.60,716.33 841.20,715.67 853.80,715.00 C866.40,714.33 879.40,713.67 891.60,713.00 C903.80,712.33 921.10,711.33 927.00,711.00 C928.00,710.00 929.50,707.25 933.00,705.00 C936.50,702.75 942.30,699.90 948.00,697.50 C953.70,695.10 960.87,692.77 967.20,690.60 C973.53,688.43 979.70,686.33 986.00,684.50 C992.30,682.67 998.67,681.18 1005.00,679.60 C1011.33,678.02 1017.70,676.43 1024.00,675.00 C1030.30,673.57 1036.47,672.42 1042.80,671.00 C1049.13,669.58 1055.68,667.97 1062.00,666.50 C1068.32,665.03 1077.58,662.92 1080.70,662.20" fill="none" stroke="#3adc3a" stroke-width="1.7" stroke-linejoin="round" stroke-linecap="round"/>
<path d="M702.60,676.00 C705.50,676.25 713.70,677.17 720.00,677.50 C726.30,677.83 730.70,677.92 740.40,678.00 C750.10,678.08 765.60,678.07 778.20,678.00 C790.80,677.93 803.40,677.77 816.00,677.60 C828.60,677.43 841.20,677.20 853.80,677.00 C866.40,676.80 879.00,676.65 891.60,676.40 C904.20,676.15 923.10,675.65 929.40,675.50 C932.50,674.75 941.70,672.38 948.00,671.00 C954.30,669.62 960.87,668.33 967.20,667.20 C973.53,666.07 979.70,665.15 986.00,664.20 C992.30,663.25 998.67,662.37 1005.00,661.50 C1011.33,660.63 1017.70,659.83 1024.00,659.00 C1030.30,658.17 1036.47,657.42 1042.80,656.50 C1049.13,655.58 1055.68,654.57 1062.00,653.50 C1068.32,652.43 1077.58,650.67 1080.70,650.10" fill="none" stroke="#1c1cc8" stroke-width="1.7" stroke-linejoin="round" stroke-linecap="round"/>
<path d="M702.60,660.00 C705.50,660.25 713.70,661.17 720.00,661.50 C726.30,661.83 730.70,661.92 740.40,662.00 C750.10,662.08 765.60,662.07 778.20,662.00 C790.80,661.93 803.40,661.77 816.00,661.60 C828.60,661.43 841.20,661.18 853.80,661.00 C866.40,660.82 879.00,660.73 891.60,660.50 C904.20,660.27 923.10,659.75 929.40,659.60 C932.50,659.25 941.70,658.13 948.00,657.50 C954.30,656.87 960.87,656.43 967.20,655.80 C973.53,655.17 979.70,654.40 986.00,653.70 C992.30,653.00 998.67,652.32 1005.00,651.60 C1011.33,650.88 1017.70,650.17 1024.00,649.40 C1030.30,648.63 1036.47,647.98 1042.80,647.00 C1049.13,646.02 1055.68,644.87 1062.00,643.50 C1068.32,642.13 1077.58,639.58 1080.70,638.80" fill="none" stroke="#6a1a6a" stroke-width="1.7" stroke-linejoin="round" stroke-linecap="round"/>
<rect x="722.50" y="551.20" width="114.10" height="60.90" stroke="#8a8a8a" stroke-width="1" fill="#fff" />
<line x1="737.00" y1="558.80" x2="751.40" y2="558.80" stroke="#d8344e" stroke-width="1.7" />
<text x="753.00" y="562.00" font-size="8.850" font-weight="normal" fill="#111" >9 kHz to 50 MHz</text>
<line x1="737.00" y1="574.00" x2="751.40" y2="574.00" stroke="#3cc83c" stroke-width="1.7" />
<text x="753.00" y="577.20" font-size="8.814" font-weight="normal" fill="#111" >50 MHz to 2 GHz</text>
<line x1="737.00" y1="589.00" x2="751.40" y2="589.00" stroke="#3a30d8" stroke-width="1.7" />
<text x="753.00" y="592.20" font-size="8.782" font-weight="normal" fill="#111" >2 GHz to 8 GHz</text>
<line x1="737.00" y1="604.30" x2="751.40" y2="604.30" stroke="#4e1a4c" stroke-width="1.7" />
<text x="753.00" y="607.50" font-size="8.825" font-weight="normal" fill="#111" >8 GHz to 20 GHz</text>
<rect x="823.00" y="719.00" width="249.50" height="13.00" stroke="#7a7a7a" stroke-width="1" fill="#fff" />
<text x="825.80" y="728.70" font-size="8.910" font-weight="normal" fill="#111" >S11 = S22 = 0; Cal power = -10 dBm; Meas power = -10 dBm</text>
<rect x="900.50" y="738.60" width="172.00" height="13.70" stroke="#7a7a7a" stroke-width="1" fill="#fff" />
<text x="904.00" y="748.70" font-size="8.798" font-weight="normal" fill="#111" >IF Bandwidth = 10 Hz; Average Factor = 1</text>
<rect x="765.60" y="510.40" width="252.30" height="16.90" stroke="#9a9a9a" stroke-width="1" fill="#fff" />
<text x="769.00" y="522.80" font-size="11.096" font-weight="normal" fill="#111" >E5080B 4K0/140 Full Two Port Cal Using 85052D</text>
<text x="818.10" y="499.80" font-size="13.746" font-weight="bold" fill="#000" >S21 Phase Accuracy</text>
<text x="673.53" y="535.00" font-size="11.300" font-weight="normal" fill="#111" >100</text>
<text x="679.86" y="609.00" font-size="11.300" font-weight="normal" fill="#111" >10</text>
<text x="686.13" y="683.00" font-size="11.300" font-weight="normal" fill="#111" >1</text>
<text x="676.69" y="757.00" font-size="11.300" font-weight="normal" fill="#111" >0.1</text>
<text x="696.33" y="770.30" font-size="11.300" font-weight="normal" fill="#111" >10</text>
<text x="737.27" y="770.30" font-size="11.300" font-weight="normal" fill="#111" >0</text>
<text x="770.06" y="770.30" font-size="11.300" font-weight="normal" fill="#111" >-10</text>
<text x="807.87" y="770.30" font-size="11.300" font-weight="normal" fill="#111" >-20</text>
<text x="845.68" y="770.30" font-size="11.300" font-weight="normal" fill="#111" >-30</text>
<text x="883.49" y="770.30" font-size="11.300" font-weight="normal" fill="#111" >-40</text>
<text x="921.30" y="770.30" font-size="11.300" font-weight="normal" fill="#111" >-50</text>
<text x="959.11" y="770.30" font-size="11.300" font-weight="normal" fill="#111" >-60</text>
<text x="996.92" y="770.30" font-size="11.300" font-weight="normal" fill="#111" >-70</text>
<text x="1034.73" y="770.30" font-size="11.300" font-weight="normal" fill="#111" >-80</text>
<text x="1072.54" y="770.30" font-size="11.300" font-weight="normal" fill="#111" >-90</text>
<text x="789.00" y="786.30" font-size="13.807" font-weight="bold" fill="#000" >Transmission Coefficient (dB)</text>
<g transform="translate(667.3,641.0) rotate(-90)">
<text x="-72.30" y="0.00" font-size="13.917" font-weight="bold" fill="#000" >Uncertainty (Degrees)</text>
</g>
<rect x="141.50" y="899.30" width="470.50" height="319.90" stroke="#3c3c3c" stroke-width="1.3" fill="#fff" />
<line x1="199.00" y1="992.28" x2="572.80" y2="992.28" stroke="#c4c4c4" stroke-width="1" />
<line x1="199.00" y1="1037.96" x2="572.80" y2="1037.96" stroke="#c4c4c4" stroke-width="1" />
<line x1="199.00" y1="1083.64" x2="572.80" y2="1083.64" stroke="#c4c4c4" stroke-width="1" />
<line x1="199.00" y1="1129.32" x2="572.80" y2="1129.32" stroke="#c4c4c4" stroke-width="1" />
<line x1="199.00" y1="946.60" x2="572.80" y2="946.60" stroke="#9a9a9a" stroke-width="1" />
<line x1="199.00" y1="946.60" x2="199.00" y2="1175.00" stroke="#8c8c8c" stroke-width="1.0" />
<line x1="273.76" y1="946.60" x2="273.76" y2="1175.00" stroke="#c4c4c4" stroke-width="1.0" />
<line x1="348.52" y1="946.60" x2="348.52" y2="1175.00" stroke="#888888" stroke-width="1.0" />
<line x1="423.28" y1="946.60" x2="423.28" y2="1175.00" stroke="#888888" stroke-width="1.0" />
<line x1="498.04" y1="946.60" x2="498.04" y2="1175.00" stroke="#999999" stroke-width="1.0" />
<line x1="572.80" y1="946.60" x2="572.80" y2="1175.00" stroke="#a0a0a0" stroke-width="1.0" />
<polyline points="199.00,1138.00 199.47,1138.01 199.93,1138.01 200.40,1138.02 200.87,1138.03 201.34,1138.03 201.80,1138.04 202.27,1138.04 202.74,1138.05 203.21,1138.05 203.67,1138.06 204.14,1138.06 204.61,1138.06 205.07,1138.06 205.54,1138.07 206.01,1138.07 206.48,1138.07 206.94,1138.07 207.41,1138.07 207.88,1138.07 208.34,1138.07 208.81,1138.07 209.28,1138.07 209.75,1138.07 210.21,1138.07 210.68,1138.07 211.15,1138.06 211.62,1138.06 212.08,1138.06 212.55,1138.05 213.02,1138.05 213.48,1138.05 213.95,1138.04 214.42,1138.04 214.89,1138.03 215.35,1138.02 215.82,1138.02 216.29,1138.01 216.76,1138.00 217.22,1138.00 217.69,1137.99 218.16,1137.98 218.62,1137.97 219.09,1137.96 219.56,1137.95 220.03,1137.95 220.49,1137.94 220.96,1137.92 221.43,1137.91 221.90,1137.90 222.36,1137.89 222.83,1137.88 223.30,1137.87 223.76,1137.85 224.23,1137.84 224.70,1137.83 225.17,1137.82 225.63,1137.80 226.10,1137.79 226.57,1137.77 227.03,1137.76 227.50,1137.74 227.97,1137.73 228.44,1137.71 228.90,1137.69 229.37,1137.68 229.84,1137.66 230.31,1137.64 230.77,1137.62 231.24,1137.60 231.71,1137.58 232.17,1137.57 232.64,1137.55 233.11,1137.53 233.58,1137.51 234.04,1137.49 234.51,1137.46 234.98,1137.44 235.45,1137.42 235.91,1137.40 236.38,1137.38 236.85,1137.35 237.31,1137.33 237.78,1137.31 238.25,1137.28 238.72,1137.26 239.18,1137.24 239.65,1137.21 240.12,1137.19 240.59,1137.16 241.05,1137.13 241.52,1137.11 241.99,1137.08 242.45,1137.05 242.92,1137.03 243.39,1137.00 243.86,1136.97 244.32,1136.94 244.79,1136.91 245.26,1136.88 245.72,1136.86 246.19,1136.83 246.66,1136.80 247.13,1136.76 247.59,1136.73 248.06,1136.70 248.53,1136.67 249.00,1136.64 249.46,1136.61 249.93,1136.58 250.40,1136.54 250.86,1136.51 251.33,1136.48 251.80,1136.44 252.27,1136.41 252.73,1136.37 253.20,1136.34 253.67,1136.30 254.14,1136.27 254.60,1136.23 255.07,1136.20 255.54,1136.16 256.00,1136.12 256.47,1136.08 256.94,1136.05 257.41,1136.01 257.87,1135.97 258.34,1135.93 258.81,1135.89 259.28,1135.85 259.74,1135.82 260.21,1135.78 260.68,1135.73 261.14,1135.69 261.61,1135.65 262.08,1135.61 262.55,1135.57 263.01,1135.53 263.48,1135.49 263.95,1135.44 264.41,1135.40 264.88,1135.36 265.35,1135.32 265.82,1135.27 266.28,1135.23 266.75,1135.18 267.22,1135.14 267.69,1135.09 268.15,1135.05 268.62,1135.00 269.09,1134.96 269.55,1134.91 270.02,1134.86 270.49,1134.82 270.96,1134.77 271.42,1134.72 271.89,1134.67 272.36,1134.63 272.83,1134.58 273.29,1134.53 273.76,1134.48 274.23,1134.43 274.69,1134.38 275.16,1134.33 275.63,1134.28 276.10,1134.23 276.56,1134.18 277.03,1134.13 277.50,1134.07 277.97,1134.02 278.43,1133.97 278.90,1133.92 279.37,1133.86 279.83,1133.81 280.30,1133.76 280.77,1133.70 281.24,1133.65 281.70,1133.60 282.17,1133.54 282.64,1133.49 283.11,1133.43 283.57,1133.37 284.04,1133.32 284.51,1133.26 284.97,1133.21 285.44,1133.15 285.91,1133.09 286.38,1133.03 286.84,1132.98 287.31,1132.92 287.78,1132.86 288.24,1132.80 288.71,1132.74 289.18,1132.68 289.65,1132.62 290.11,1132.56 290.58,1132.50 291.05,1132.44 291.52,1132.38 291.98,1132.32 292.45,1132.26 292.92,1132.20 293.38,1132.14 293.85,1132.07 294.32,1132.01 294.79,1131.95 295.25,1131.89 295.72,1131.82 296.19,1131.76 296.66,1131.70 297.12,1131.63 297.59,1131.57 298.06,1131.50 298.52,1131.44 298.99,1131.37 299.46,1131.31 299.93,1131.24 300.39,1131.17 300.86,1131.11 301.33,1131.04 301.80,1130.97 302.26,1130.91 302.73,1130.84 303.20,1130.77 303.66,1130.70 304.13,1130.63 304.60,1130.57 305.07,1130.50 305.53,1130.43 306.00,1130.36 306.47,1130.29 306.93,1130.22 307.40,1130.15 307.87,1130.08 308.34,1130.01 308.80,1129.94 309.27,1129.86 309.74,1129.79 310.21,1129.72 310.67,1129.65 311.14,1129.58 311.61,1129.50 312.07,1129.43 312.54,1129.36 313.01,1129.28 313.48,1129.21 313.94,1129.13 314.41,1129.06 314.88,1128.98 315.35,1128.91 315.81,1128.83 316.28,1128.76 316.75,1128.68 317.21,1128.61 317.68,1128.53 318.15,1128.45 318.62,1128.38 319.08,1128.30 319.55,1128.22 320.02,1128.15 320.49,1128.07 320.95,1127.99 321.42,1127.91 321.89,1127.83 322.35,1127.75 322.82,1127.67 323.29,1127.60 323.76,1127.52 324.22,1127.44 324.69,1127.36 325.16,1127.27 325.62,1127.19 326.09,1127.11 326.56,1127.03 327.03,1126.95 327.49,1126.87 327.96,1126.79 328.43,1126.70 328.90,1126.62 329.36,1126.54 329.83,1126.46 330.30,1126.37 330.76,1126.29 331.23,1126.21 331.70,1126.12 332.17,1126.04 332.63,1125.95 333.10,1125.87 333.57,1125.78 334.04,1125.70 334.50,1125.61 334.97,1125.53 335.44,1125.44 335.90,1125.35 336.37,1125.27 336.84,1125.18 337.31,1125.09 337.77,1125.01 338.24,1124.92 338.71,1124.83 339.17,1124.74 339.64,1124.66 340.11,1124.57 340.58,1124.48 341.04,1124.39 341.51,1124.30 341.98,1124.21 342.45,1124.12 342.91,1124.03 343.38,1123.94 343.85,1123.85 344.31,1123.76 344.78,1123.67 345.25,1123.58 345.72,1123.49 346.18,1123.40 346.65,1123.31 347.12,1123.21 347.59,1123.12 348.05,1123.03 348.52,1122.94 348.99,1122.85 349.45,1122.75 349.92,1122.66 350.39,1122.57 350.86,1122.47 351.32,1122.38 351.79,1122.28 352.26,1122.19 352.73,1122.09 353.19,1122.00 353.66,1121.90 354.13,1121.81 354.59,1121.71 355.06,1121.62 355.53,1121.52 356.00,1121.43 356.46,1121.33 356.93,1121.23 357.40,1121.14 357.87,1121.04 358.33,1120.94 358.80,1120.84 359.27,1120.75 359.73,1120.65 360.20,1120.55 360.67,1120.45 361.14,1120.35 361.60,1120.26 362.07,1120.16 362.54,1120.06 363.00,1119.96 363.47,1119.86 363.94,1119.76 364.41,1119.66 364.87,1119.56 365.34,1119.46 365.81,1119.36 366.28,1119.26 366.74,1119.16 367.21,1119.05 367.68,1118.95 368.14,1118.85 368.61,1118.75 369.08,1118.65 369.55,1118.54 370.01,1118.44 370.48,1118.34 370.95,1118.24 371.42,1118.13 371.88,1118.03 372.35,1117.93 372.82,1117.82 373.28,1117.72 373.75,1117.61 374.22,1117.51 374.69,1117.41 375.15,1117.30 375.62,1117.20 376.09,1117.09 376.55,1116.99 377.02,1116.88 377.49,1116.77 377.96,1116.67 378.42,1116.56 378.89,1116.46 379.36,1116.35 379.83,1116.24 380.29,1116.14 380.76,1116.03 381.23,1115.92 381.69,1115.81 382.16,1115.71 382.63,1115.60 383.10,1115.49 383.56,1115.38 384.03,1115.27 384.50,1115.16 384.97,1115.06 385.43,1114.95 385.90,1114.84 386.37,1114.73 386.83,1114.62 387.30,1114.51 387.77,1114.40 388.24,1114.29 388.70,1114.18 389.17,1114.07 389.64,1113.96 390.11,1113.85 390.57,1113.74 391.04,1113.63 391.51,1113.51 391.97,1113.40 392.44,1113.29 392.91,1113.18 393.38,1113.07 393.84,1112.95 394.31,1112.84 394.78,1112.73 395.25,1112.62 395.71,1112.50 396.18,1112.39 396.65,1112.28 397.11,1112.16 397.58,1112.05 398.05,1111.94 398.52,1111.82 398.98,1111.71 399.45,1111.59 399.92,1111.48 400.38,1111.36 400.85,1111.25 401.32,1111.13 401.79,1111.02 402.25,1110.90 402.72,1110.79 403.19,1110.67 403.66,1110.56 404.12,1110.44 404.59,1110.32 405.06,1110.21 405.52,1110.09 405.99,1109.97 406.46,1109.86 406.93,1109.74 407.39,1109.62 407.86,1109.51 408.33,1109.39 408.80,1109.27 409.26,1109.15 409.73,1109.04 410.20,1108.92 410.66,1108.80 411.13,1108.68 411.60,1108.56 412.07,1108.44 412.53,1108.32 413.00,1108.21 413.47,1108.09 413.93,1107.97 414.40,1107.85 414.87,1107.73 415.34,1107.61 415.80,1107.49 416.27,1107.37 416.74,1107.25 417.21,1107.13 417.67,1107.01 418.14,1106.89 418.61,1106.76 419.07,1106.64 419.54,1106.52 420.01,1106.40 420.48,1106.28 420.94,1106.16 421.41,1106.04 421.88,1105.91 422.35,1105.79 422.81,1105.67 423.28,1105.55 423.75,1105.42 424.21,1105.30 424.68,1105.18 425.15,1105.06 425.62,1104.93 426.08,1104.81 426.55,1104.69 427.02,1104.56 427.49,1104.44 427.95,1104.32 428.42,1104.19 428.89,1104.07 429.35,1103.94 429.82,1103.82 430.29,1103.69 430.76,1103.57 431.22,1103.44 431.69,1103.32 432.16,1103.19 432.62,1103.07 433.09,1102.94 433.56,1102.82 434.03,1102.69 434.49,1102.57 434.96,1102.44 435.43,1102.32 435.90,1102.19 436.36,1102.06 436.83,1101.94 437.30,1101.81 437.76,1101.68 438.23,1101.56 438.70,1101.43 439.17,1101.30 439.63,1101.18 440.10,1101.05 440.57,1100.92 441.04,1100.79 441.50,1100.67 441.97,1100.54 442.44,1100.41 442.90,1100.28 443.37,1100.16 443.84,1100.03 444.31,1099.90 444.77,1099.77 445.24,1099.64 445.71,1099.51 446.18,1099.38 446.64,1099.26 447.11,1099.13 447.58,1099.00 448.04,1098.87 448.51,1098.74 448.98,1098.61 449.45,1098.48 449.91,1098.35 450.38,1098.22 450.85,1098.09 451.31,1097.96 451.78,1097.83 452.25,1097.70 452.72,1097.57 453.18,1097.44 453.65,1097.31 454.12,1097.18 454.59,1097.05 455.05,1096.92 455.52,1096.78 455.99,1096.65 456.45,1096.52 456.92,1096.39 457.39,1096.26 457.86,1096.13 458.32,1096.00 458.79,1095.86 459.26,1095.73 459.73,1095.60 460.19,1095.47 460.66,1095.34 461.13,1095.20 461.59,1095.07 462.06,1094.94 462.53,1094.81 463.00,1094.67 463.46,1094.54 463.93,1094.41 464.40,1094.27 464.87,1094.14 465.33,1094.01 465.80,1093.87 466.27,1093.74 466.73,1093.61 467.20,1093.47 467.67,1093.34 468.14,1093.21 468.60,1093.07 469.07,1092.94 469.54,1092.80 470.00,1092.67 470.47,1092.54 470.94,1092.40 471.41,1092.27 471.87,1092.13 472.34,1092.00 472.81,1091.86 473.28,1091.73 473.74,1091.59 474.21,1091.46 474.68,1091.32 475.14,1091.19 475.61,1091.05 476.08,1090.92 476.55,1090.78 477.01,1090.65 477.48,1090.51 477.95,1090.38 478.42,1090.24 478.88,1090.11 479.35,1089.97 479.82,1089.83 480.28,1089.70 480.75,1089.56 481.22,1089.43 481.69,1089.29 482.15,1089.15 482.62,1089.02 483.09,1088.88 483.56,1088.74 484.02,1088.61 484.49,1088.47 484.96,1088.33 485.42,1088.20 485.89,1088.06 486.36,1087.92 486.83,1087.79 487.29,1087.65 487.76,1087.51 488.23,1087.37 488.69,1087.24 489.16,1087.10 489.63,1086.96 490.10,1086.82 490.56,1086.69 491.03,1086.55 491.50,1086.41 491.97,1086.27 492.43,1086.14 492.90,1086.00 493.37,1085.86 493.83,1085.72 494.30,1085.58 494.77,1085.44 495.24,1085.31 495.70,1085.17 496.17,1085.03 496.64,1084.89 497.11,1084.75 497.57,1084.61 498.04,1084.48 498.51,1084.34 498.97,1084.20 499.44,1084.06 499.91,1083.92 500.38,1083.78 500.84,1083.64 501.31,1083.50 501.78,1083.36 502.25,1083.22 502.71,1083.09 503.18,1082.95 503.65,1082.81 504.11,1082.67 504.58,1082.53 505.05,1082.39 505.52,1082.25 505.98,1082.11 506.45,1081.97 506.92,1081.83 507.38,1081.69 507.85,1081.55 508.32,1081.41 508.79,1081.27 509.25,1081.13 509.72,1080.99 510.19,1080.85 510.66,1080.71 511.12,1080.57 511.59,1080.43 512.06,1080.29 512.52,1080.15 512.99,1080.01 513.46,1079.87 513.93,1079.73 514.39,1079.59 514.86,1079.45 515.33,1079.31 515.80,1079.17 516.26,1079.03 516.73,1078.89 517.20,1078.75 517.66,1078.61 518.13,1078.46 518.60,1078.32 519.07,1078.18 519.53,1078.04 520.00,1077.90 520.47,1077.76 520.94,1077.62 521.40,1077.48 521.87,1077.34 522.34,1077.20 522.80,1077.06 523.27,1076.91 523.74,1076.77 524.21,1076.63 524.67,1076.49 525.14,1076.35 525.61,1076.21 526.07,1076.07 526.54,1075.93 527.01,1075.78 527.48,1075.64 527.94,1075.50 528.41,1075.36 528.88,1075.22 529.35,1075.08 529.81,1074.94 530.28,1074.80 530.75,1074.65 531.21,1074.51 531.68,1074.37 532.15,1074.23 532.62,1074.09 533.08,1073.95 533.55,1073.80 534.02,1073.66 534.49,1073.52 534.95,1073.38 535.42,1073.24 535.89,1073.10 536.35,1072.95 536.82,1072.81 537.29,1072.67 537.76,1072.53 538.22,1072.39 538.69,1072.25 539.16,1072.10 539.63,1071.96 540.09,1071.82 540.56,1071.68 541.03,1071.54 541.49,1071.39 541.96,1071.25 542.43,1071.11 542.90,1070.97 543.36,1070.83 543.83,1070.68 544.30,1070.54 544.76,1070.40 545.23,1070.26 545.70,1070.12 546.17,1069.97 546.63,1069.83 547.10,1069.69 547.57,1069.55 548.04,1069.41 548.50,1069.27 548.97,1069.12 549.44,1068.98 549.90,1068.84 550.37,1068.70 550.84,1068.56 551.31,1068.41 551.77,1068.27 552.24,1068.13 552.71,1067.99 553.18,1067.85 553.64,1067.70 554.11,1067.56 554.58,1067.42 555.04,1067.28 555.51,1067.14 555.98,1066.99 556.45,1066.85 556.91,1066.71 557.38,1066.57 557.85,1066.43 558.32,1066.28 558.78,1066.14 559.25,1066.00 559.72,1065.86 560.18,1065.72 560.65,1065.58 561.12,1065.43 561.59,1065.29 562.05,1065.15 562.52,1065.01 562.99,1064.87 563.45,1064.72 563.92,1064.58 564.39,1064.44 564.86,1064.30 565.32,1064.16 565.79,1064.02 566.26,1063.87 566.73,1063.73 567.19,1063.59 567.66,1063.45 568.13,1063.31 568.59,1063.17 569.06,1063.02 569.53,1062.88 570.00,1062.74 570.46,1062.60 570.93,1062.46 571.40,1062.32 571.87,1062.18 572.33,1062.03 572.80,1061.89" fill="none" stroke="#e0202a" stroke-width="1.6" stroke-linejoin="round" stroke-linecap="round" />
<polyline points="199.00,1137.99 199.47,1138.00 199.93,1138.00 200.40,1138.00 200.87,1138.01 201.34,1138.01 201.80,1138.01 202.27,1138.02 202.74,1138.02 203.21,1138.02 203.67,1138.02 204.14,1138.02 204.61,1138.02 205.07,1138.02 205.54,1138.02 206.01,1138.02 206.48,1138.02 206.94,1138.02 207.41,1138.02 207.88,1138.02 208.34,1138.01 208.81,1138.01 209.28,1138.01 209.75,1138.00 210.21,1138.00 210.68,1138.00 211.15,1137.99 211.62,1137.99 212.08,1137.98 212.55,1137.98 213.02,1137.97 213.48,1137.97 213.95,1137.96 214.42,1137.95 214.89,1137.95 215.35,1137.94 215.82,1137.93 216.29,1137.92 216.76,1137.92 217.22,1137.91 217.69,1137.90 218.16,1137.89 218.62,1137.88 219.09,1137.87 219.56,1137.86 220.03,1137.85 220.49,1137.84 220.96,1137.83 221.43,1137.81 221.90,1137.80 222.36,1137.79 222.83,1137.78 223.30,1137.76 223.76,1137.75 224.23,1137.74 224.70,1137.72 225.17,1137.71 225.63,1137.69 226.10,1137.68 226.57,1137.66 227.03,1137.65 227.50,1137.63 227.97,1137.62 228.44,1137.60 228.90,1137.58 229.37,1137.57 229.84,1137.55 230.31,1137.53 230.77,1137.51 231.24,1137.49 231.71,1137.47 232.17,1137.45 232.64,1137.44 233.11,1137.42 233.58,1137.40 234.04,1137.37 234.51,1137.35 234.98,1137.33 235.45,1137.31 235.91,1137.29 236.38,1137.27 236.85,1137.25 237.31,1137.22 237.78,1137.20 238.25,1137.18 238.72,1137.15 239.18,1137.13 239.65,1137.10 240.12,1137.08 240.59,1137.05 241.05,1137.03 241.52,1137.00 241.99,1136.98 242.45,1136.95 242.92,1136.93 243.39,1136.90 243.86,1136.87 244.32,1136.84 244.79,1136.82 245.26,1136.79 245.72,1136.76 246.19,1136.73 246.66,1136.70 247.13,1136.67 247.59,1136.64 248.06,1136.61 248.53,1136.58 249.00,1136.55 249.46,1136.52 249.93,1136.49 250.40,1136.46 250.86,1136.43 251.33,1136.40 251.80,1136.36 252.27,1136.33 252.73,1136.30 253.20,1136.26 253.67,1136.23 254.14,1136.20 254.60,1136.16 255.07,1136.13 255.54,1136.09 256.00,1136.06 256.47,1136.02 256.94,1135.99 257.41,1135.95 257.87,1135.92 258.34,1135.88 258.81,1135.84 259.28,1135.80 259.74,1135.77 260.21,1135.73 260.68,1135.69 261.14,1135.65 261.61,1135.61 262.08,1135.58 262.55,1135.54 263.01,1135.50 263.48,1135.46 263.95,1135.42 264.41,1135.38 264.88,1135.34 265.35,1135.29 265.82,1135.25 266.28,1135.21 266.75,1135.17 267.22,1135.13 267.69,1135.09 268.15,1135.04 268.62,1135.00 269.09,1134.96 269.55,1134.91 270.02,1134.87 270.49,1134.82 270.96,1134.78 271.42,1134.73 271.89,1134.69 272.36,1134.64 272.83,1134.60 273.29,1134.55 273.76,1134.51 274.23,1134.46 274.69,1134.41 275.16,1134.37 275.63,1134.32 276.10,1134.27 276.56,1134.22 277.03,1134.17 277.50,1134.13 277.97,1134.08 278.43,1134.03 278.90,1133.98 279.37,1133.93 279.83,1133.88 280.30,1133.83 280.77,1133.78 281.24,1133.73 281.70,1133.68 282.17,1133.63 282.64,1133.57 283.11,1133.52 283.57,1133.47 284.04,1133.42 284.51,1133.37 284.97,1133.31 285.44,1133.26 285.91,1133.21 286.38,1133.15 286.84,1133.10 287.31,1133.04 287.78,1132.99 288.24,1132.93 288.71,1132.88 289.18,1132.82 289.65,1132.77 290.11,1132.71 290.58,1132.66 291.05,1132.60 291.52,1132.54 291.98,1132.49 292.45,1132.43 292.92,1132.37 293.38,1132.31 293.85,1132.25 294.32,1132.20 294.79,1132.14 295.25,1132.08 295.72,1132.02 296.19,1131.96 296.66,1131.90 297.12,1131.84 297.59,1131.78 298.06,1131.72 298.52,1131.66 298.99,1131.60 299.46,1131.54 299.93,1131.47 300.39,1131.41 300.86,1131.35 301.33,1131.29 301.80,1131.23 302.26,1131.16 302.73,1131.10 303.20,1131.04 303.66,1130.97 304.13,1130.91 304.60,1130.84 305.07,1130.78 305.53,1130.72 306.00,1130.65 306.47,1130.59 306.93,1130.52 307.40,1130.45 307.87,1130.39 308.34,1130.32 308.80,1130.26 309.27,1130.19 309.74,1130.12 310.21,1130.05 310.67,1129.99 311.14,1129.92 311.61,1129.85 312.07,1129.78 312.54,1129.71 313.01,1129.65 313.48,1129.58 313.94,1129.51 314.41,1129.44 314.88,1129.37 315.35,1129.30 315.81,1129.23 316.28,1129.16 316.75,1129.09 317.21,1129.02 317.68,1128.94 318.15,1128.87 318.62,1128.80 319.08,1128.73 319.55,1128.66 320.02,1128.58 320.49,1128.51 320.95,1128.44 321.42,1128.37 321.89,1128.29 322.35,1128.22 322.82,1128.14 323.29,1128.07 323.76,1128.00 324.22,1127.92 324.69,1127.85 325.16,1127.77 325.62,1127.70 326.09,1127.62 326.56,1127.54 327.03,1127.47 327.49,1127.39 327.96,1127.32 328.43,1127.24 328.90,1127.16 329.36,1127.08 329.83,1127.01 330.30,1126.93 330.76,1126.85 331.23,1126.77 331.70,1126.69 332.17,1126.62 332.63,1126.54 333.10,1126.46 333.57,1126.38 334.04,1126.30 334.50,1126.22 334.97,1126.14 335.44,1126.06 335.90,1125.98 336.37,1125.90 336.84,1125.82 337.31,1125.73 337.77,1125.65 338.24,1125.57 338.71,1125.49 339.17,1125.41 339.64,1125.33 340.11,1125.24 340.58,1125.16 341.04,1125.08 341.51,1124.99 341.98,1124.91 342.45,1124.83 342.91,1124.74 343.38,1124.66 343.85,1124.57 344.31,1124.49 344.78,1124.40 345.25,1124.32 345.72,1124.23 346.18,1124.15 346.65,1124.06 347.12,1123.98 347.59,1123.89 348.05,1123.80 348.52,1123.72 348.99,1123.63 349.45,1123.54 349.92,1123.46 350.39,1123.37 350.86,1123.28 351.32,1123.19 351.79,1123.10 352.26,1123.02 352.73,1122.93 353.19,1122.84 353.66,1122.75 354.13,1122.66 354.59,1122.57 355.06,1122.48 355.53,1122.39 356.00,1122.30 356.46,1122.21 356.93,1122.12 357.40,1122.03 357.87,1121.94 358.33,1121.85 358.80,1121.76 359.27,1121.67 359.73,1121.57 360.20,1121.48 360.67,1121.39 361.14,1121.30 361.60,1121.20 362.07,1121.11 362.54,1121.02 363.00,1120.93 363.47,1120.83 363.94,1120.74 364.41,1120.64 364.87,1120.55 365.34,1120.46 365.81,1120.36 366.28,1120.27 366.74,1120.17 367.21,1120.08 367.68,1119.98 368.14,1119.89 368.61,1119.79 369.08,1119.69 369.55,1119.60 370.01,1119.50 370.48,1119.41 370.95,1119.31 371.42,1119.21 371.88,1119.11 372.35,1119.02 372.82,1118.92 373.28,1118.82 373.75,1118.72 374.22,1118.63 374.69,1118.53 375.15,1118.43 375.62,1118.33 376.09,1118.23 376.55,1118.13 377.02,1118.03 377.49,1117.93 377.96,1117.83 378.42,1117.73 378.89,1117.63 379.36,1117.53 379.83,1117.43 380.29,1117.33 380.76,1117.23 381.23,1117.13 381.69,1117.03 382.16,1116.93 382.63,1116.83 383.10,1116.73 383.56,1116.62 384.03,1116.52 384.50,1116.42 384.97,1116.32 385.43,1116.21 385.90,1116.11 386.37,1116.01 386.83,1115.91 387.30,1115.80 387.77,1115.70 388.24,1115.59 388.70,1115.49 389.17,1115.39 389.64,1115.28 390.11,1115.18 390.57,1115.07 391.04,1114.97 391.51,1114.86 391.97,1114.76 392.44,1114.65 392.91,1114.55 393.38,1114.44 393.84,1114.33 394.31,1114.23 394.78,1114.12 395.25,1114.02 395.71,1113.91 396.18,1113.80 396.65,1113.69 397.11,1113.59 397.58,1113.48 398.05,1113.37 398.52,1113.26 398.98,1113.16 399.45,1113.05 399.92,1112.94 400.38,1112.83 400.85,1112.72 401.32,1112.61 401.79,1112.51 402.25,1112.40 402.72,1112.29 403.19,1112.18 403.66,1112.07 404.12,1111.96 404.59,1111.85 405.06,1111.74 405.52,1111.63 405.99,1111.52 406.46,1111.41 406.93,1111.30 407.39,1111.18 407.86,1111.07 408.33,1110.96 408.80,1110.85 409.26,1110.74 409.73,1110.63 410.20,1110.51 410.66,1110.40 411.13,1110.29 411.60,1110.18 412.07,1110.06 412.53,1109.95 413.00,1109.84 413.47,1109.73 413.93,1109.61 414.40,1109.50 414.87,1109.39 415.34,1109.27 415.80,1109.16 416.27,1109.04 416.74,1108.93 417.21,1108.81 417.67,1108.70 418.14,1108.59 418.61,1108.47 419.07,1108.36 419.54,1108.24 420.01,1108.12 420.48,1108.01 420.94,1107.89 421.41,1107.78 421.88,1107.66 422.35,1107.55 422.81,1107.43 423.28,1107.31 423.75,1107.20 424.21,1107.08 424.68,1106.96 425.15,1106.84 425.62,1106.73 426.08,1106.61 426.55,1106.49 427.02,1106.38 427.49,1106.26 427.95,1106.14 428.42,1106.02 428.89,1105.90 429.35,1105.78 429.82,1105.67 430.29,1105.55 430.76,1105.43 431.22,1105.31 431.69,1105.19 432.16,1105.07 432.62,1104.95 433.09,1104.83 433.56,1104.71 434.03,1104.59 434.49,1104.47 434.96,1104.35 435.43,1104.23 435.90,1104.11 436.36,1103.99 436.83,1103.87 437.30,1103.75 437.76,1103.63 438.23,1103.51 438.70,1103.38 439.17,1103.26 439.63,1103.14 440.10,1103.02 440.57,1102.90 441.04,1102.78 441.50,1102.65 441.97,1102.53 442.44,1102.41 442.90,1102.29 443.37,1102.16 443.84,1102.04 444.31,1101.92 444.77,1101.79 445.24,1101.67 445.71,1101.55 446.18,1101.42 446.64,1101.30 447.11,1101.18 447.58,1101.05 448.04,1100.93 448.51,1100.81 448.98,1100.68 449.45,1100.56 449.91,1100.43 450.38,1100.31 450.85,1100.18 451.31,1100.06 451.78,1099.93 452.25,1099.81 452.72,1099.68 453.18,1099.56 453.65,1099.43 454.12,1099.30 454.59,1099.18 455.05,1099.05 455.52,1098.93 455.99,1098.80 456.45,1098.67 456.92,1098.55 457.39,1098.42 457.86,1098.29 458.32,1098.17 458.79,1098.04 459.26,1097.91 459.73,1097.79 460.19,1097.66 460.66,1097.53 461.13,1097.40 461.59,1097.28 462.06,1097.15 462.53,1097.02 463.00,1096.89 463.46,1096.76 463.93,1096.64 464.40,1096.51 464.87,1096.38 465.33,1096.25 465.80,1096.12 466.27,1095.99 466.73,1095.86 467.20,1095.73 467.67,1095.61 468.14,1095.48 468.60,1095.35 469.07,1095.22 469.54,1095.09 470.00,1094.96 470.47,1094.83 470.94,1094.70 471.41,1094.57 471.87,1094.44 472.34,1094.31 472.81,1094.18 473.28,1094.05 473.74,1093.92 474.21,1093.78 474.68,1093.65 475.14,1093.52 475.61,1093.39 476.08,1093.26 476.55,1093.13 477.01,1093.00 477.48,1092.87 477.95,1092.73 478.42,1092.60 478.88,1092.47 479.35,1092.34 479.82,1092.21 480.28,1092.07 480.75,1091.94 481.22,1091.81 481.69,1091.68 482.15,1091.54 482.62,1091.41 483.09,1091.28 483.56,1091.15 484.02,1091.01 484.49,1090.88 484.96,1090.75 485.42,1090.61 485.89,1090.48 486.36,1090.35 486.83,1090.21 487.29,1090.08 487.76,1089.95 488.23,1089.81 488.69,1089.68 489.16,1089.54 489.63,1089.41 490.10,1089.28 490.56,1089.14 491.03,1089.01 491.50,1088.87 491.97,1088.74 492.43,1088.60 492.90,1088.47 493.37,1088.33 493.83,1088.20 494.30,1088.06 494.77,1087.93 495.24,1087.79 495.70,1087.66 496.17,1087.52 496.64,1087.39 497.11,1087.25 497.57,1087.12 498.04,1086.98 498.51,1086.84 498.97,1086.71 499.44,1086.57 499.91,1086.44 500.38,1086.30 500.84,1086.16 501.31,1086.03 501.78,1085.89 502.25,1085.75 502.71,1085.62 503.18,1085.48 503.65,1085.34 504.11,1085.21 504.58,1085.07 505.05,1084.93 505.52,1084.79 505.98,1084.66 506.45,1084.52 506.92,1084.38 507.38,1084.25 507.85,1084.11 508.32,1083.97 508.79,1083.83 509.25,1083.69 509.72,1083.56 510.19,1083.42 510.66,1083.28 511.12,1083.14 511.59,1083.00 512.06,1082.87 512.52,1082.73 512.99,1082.59 513.46,1082.45 513.93,1082.31 514.39,1082.17 514.86,1082.04 515.33,1081.90 515.80,1081.76 516.26,1081.62 516.73,1081.48 517.20,1081.34 517.66,1081.20 518.13,1081.06 518.60,1080.92 519.07,1080.78 519.53,1080.64 520.00,1080.51 520.47,1080.37 520.94,1080.23 521.40,1080.09 521.87,1079.95 522.34,1079.81 522.80,1079.67 523.27,1079.53 523.74,1079.39 524.21,1079.25 524.67,1079.11 525.14,1078.97 525.61,1078.83 526.07,1078.69 526.54,1078.55 527.01,1078.41 527.48,1078.26 527.94,1078.12 528.41,1077.98 528.88,1077.84 529.35,1077.70 529.81,1077.56 530.28,1077.42 530.75,1077.28 531.21,1077.14 531.68,1077.00 532.15,1076.86 532.62,1076.72 533.08,1076.57 533.55,1076.43 534.02,1076.29 534.49,1076.15 534.95,1076.01 535.42,1075.87 535.89,1075.73 536.35,1075.58 536.82,1075.44 537.29,1075.30 537.76,1075.16 538.22,1075.02 538.69,1074.88 539.16,1074.73 539.63,1074.59 540.09,1074.45 540.56,1074.31 541.03,1074.17 541.49,1074.02 541.96,1073.88 542.43,1073.74 542.90,1073.60 543.36,1073.45 543.83,1073.31 544.30,1073.17 544.76,1073.03 545.23,1072.88 545.70,1072.74 546.17,1072.60 546.63,1072.46 547.10,1072.31 547.57,1072.17 548.04,1072.03 548.50,1071.88 548.97,1071.74 549.44,1071.60 549.90,1071.46 550.37,1071.31 550.84,1071.17 551.31,1071.03 551.77,1070.88 552.24,1070.74 552.71,1070.60 553.18,1070.45 553.64,1070.31 554.11,1070.17 554.58,1070.02 555.04,1069.88 555.51,1069.74 555.98,1069.59 556.45,1069.45 556.91,1069.31 557.38,1069.16 557.85,1069.02 558.32,1068.88 558.78,1068.73 559.25,1068.59 559.72,1068.44 560.18,1068.30 560.65,1068.16 561.12,1068.01 561.59,1067.87 562.05,1067.72 562.52,1067.58 562.99,1067.44 563.45,1067.29 563.92,1067.15 564.39,1067.00 564.86,1066.86 565.32,1066.72 565.79,1066.57 566.26,1066.43 566.73,1066.28 567.19,1066.14 567.66,1065.99 568.13,1065.85 568.59,1065.71 569.06,1065.56 569.53,1065.42 570.00,1065.27 570.46,1065.13 570.93,1064.98 571.40,1064.84 571.87,1064.69 572.33,1064.55 572.80,1064.41" fill="none" stroke="#3adc3a" stroke-width="1.6" stroke-linejoin="round" stroke-linecap="round" />
<polyline points="199.00,1115.87 199.47,1115.85 199.93,1115.84 200.40,1115.82 200.87,1115.81 201.34,1115.79 201.80,1115.78 202.27,1115.76 202.74,1115.75 203.21,1115.73 203.67,1115.71 204.14,1115.70 204.61,1115.68 205.07,1115.66 205.54,1115.64 206.01,1115.62 206.48,1115.60 206.94,1115.58 207.41,1115.56 207.88,1115.54 208.34,1115.52 208.81,1115.50 209.28,1115.47 209.75,1115.45 210.21,1115.43 210.68,1115.40 211.15,1115.38 211.62,1115.36 212.08,1115.33 212.55,1115.31 213.02,1115.28 213.48,1115.25 213.95,1115.23 214.42,1115.20 214.89,1115.17 215.35,1115.15 215.82,1115.12 216.29,1115.09 216.76,1115.06 217.22,1115.03 217.69,1115.00 218.16,1114.97 218.62,1114.94 219.09,1114.91 219.56,1114.88 220.03,1114.84 220.49,1114.81 220.96,1114.78 221.43,1114.75 221.90,1114.71 222.36,1114.68 222.83,1114.64 223.30,1114.61 223.76,1114.57 224.23,1114.54 224.70,1114.50 225.17,1114.46 225.63,1114.43 226.10,1114.39 226.57,1114.35 227.03,1114.31 227.50,1114.27 227.97,1114.23 228.44,1114.19 228.90,1114.15 229.37,1114.11 229.84,1114.07 230.31,1114.03 230.77,1113.99 231.24,1113.95 231.71,1113.90 232.17,1113.86 232.64,1113.82 233.11,1113.77 233.58,1113.73 234.04,1113.69 234.51,1113.64 234.98,1113.59 235.45,1113.55 235.91,1113.50 236.38,1113.46 236.85,1113.41 237.31,1113.36 237.78,1113.31 238.25,1113.26 238.72,1113.21 239.18,1113.16 239.65,1113.12 240.12,1113.06 240.59,1113.01 241.05,1112.96 241.52,1112.91 241.99,1112.86 242.45,1112.81 242.92,1112.75 243.39,1112.70 243.86,1112.65 244.32,1112.59 244.79,1112.54 245.26,1112.48 245.72,1112.43 246.19,1112.37 246.66,1112.32 247.13,1112.26 247.59,1112.20 248.06,1112.15 248.53,1112.09 249.00,1112.03 249.46,1111.97 249.93,1111.91 250.40,1111.85 250.86,1111.79 251.33,1111.73 251.80,1111.67 252.27,1111.61 252.73,1111.55 253.20,1111.49 253.67,1111.42 254.14,1111.36 254.60,1111.30 255.07,1111.23 255.54,1111.17 256.00,1111.11 256.47,1111.04 256.94,1110.98 257.41,1110.91 257.87,1110.84 258.34,1110.78 258.81,1110.71 259.28,1110.64 259.74,1110.57 260.21,1110.51 260.68,1110.44 261.14,1110.37 261.61,1110.30 262.08,1110.23 262.55,1110.16 263.01,1110.09 263.48,1110.02 263.95,1109.94 264.41,1109.87 264.88,1109.80 265.35,1109.73 265.82,1109.65 266.28,1109.58 266.75,1109.51 267.22,1109.43 267.69,1109.36 268.15,1109.28 268.62,1109.20 269.09,1109.13 269.55,1109.05 270.02,1108.97 270.49,1108.90 270.96,1108.82 271.42,1108.74 271.89,1108.66 272.36,1108.58 272.83,1108.50 273.29,1108.42 273.76,1108.34 274.23,1108.26 274.69,1108.18 275.16,1108.10 275.63,1108.02 276.10,1107.93 276.56,1107.85 277.03,1107.77 277.50,1107.68 277.97,1107.60 278.43,1107.51 278.90,1107.43 279.37,1107.34 279.83,1107.26 280.30,1107.17 280.77,1107.09 281.24,1107.00 281.70,1106.91 282.17,1106.82 282.64,1106.73 283.11,1106.65 283.57,1106.56 284.04,1106.47 284.51,1106.38 284.97,1106.29 285.44,1106.20 285.91,1106.10 286.38,1106.01 286.84,1105.92 287.31,1105.83 287.78,1105.74 288.24,1105.64 288.71,1105.55 289.18,1105.45 289.65,1105.36 290.11,1105.26 290.58,1105.17 291.05,1105.07 291.52,1104.98 291.98,1104.88 292.45,1104.78 292.92,1104.69 293.38,1104.59 293.85,1104.49 294.32,1104.39 294.79,1104.29 295.25,1104.19 295.72,1104.09 296.19,1103.99 296.66,1103.89 297.12,1103.79 297.59,1103.69 298.06,1103.59 298.52,1103.48 298.99,1103.38 299.46,1103.28 299.93,1103.17 300.39,1103.07 300.86,1102.96 301.33,1102.86 301.80,1102.75 302.26,1102.65 302.73,1102.54 303.20,1102.44 303.66,1102.33 304.13,1102.22 304.60,1102.11 305.07,1102.01 305.53,1101.90 306.00,1101.79 306.47,1101.68 306.93,1101.57 307.40,1101.46 307.87,1101.35 308.34,1101.24 308.80,1101.12 309.27,1101.01 309.74,1100.90 310.21,1100.79 310.67,1100.67 311.14,1100.56 311.61,1100.45 312.07,1100.33 312.54,1100.22 313.01,1100.10 313.48,1099.99 313.94,1099.87 314.41,1099.75 314.88,1099.64 315.35,1099.52 315.81,1099.40 316.28,1099.28 316.75,1099.16 317.21,1099.05 317.68,1098.93 318.15,1098.81 318.62,1098.69 319.08,1098.57 319.55,1098.44 320.02,1098.32 320.49,1098.20 320.95,1098.08 321.42,1097.96 321.89,1097.83 322.35,1097.71 322.82,1097.59 323.29,1097.46 323.76,1097.34 324.22,1097.21 324.69,1097.09 325.16,1096.96 325.62,1096.83 326.09,1096.71 326.56,1096.58 327.03,1096.45 327.49,1096.32 327.96,1096.20 328.43,1096.07 328.90,1095.94 329.36,1095.81 329.83,1095.68 330.30,1095.55 330.76,1095.42 331.23,1095.29 331.70,1095.15 332.17,1095.02 332.63,1094.89 333.10,1094.76 333.57,1094.62 334.04,1094.49 334.50,1094.36 334.97,1094.22 335.44,1094.09 335.90,1093.95 336.37,1093.81 336.84,1093.68 337.31,1093.54 337.77,1093.40 338.24,1093.27 338.71,1093.13 339.17,1092.99 339.64,1092.85 340.11,1092.71 340.58,1092.57 341.04,1092.43 341.51,1092.29 341.98,1092.15 342.45,1092.01 342.91,1091.87 343.38,1091.73 343.85,1091.59 344.31,1091.44 344.78,1091.30 345.25,1091.16 345.72,1091.01 346.18,1090.87 346.65,1090.72 347.12,1090.58 347.59,1090.43 348.05,1090.29 348.52,1090.14 348.99,1089.99 349.45,1089.85 349.92,1089.70 350.39,1089.55 350.86,1089.40 351.32,1089.25 351.79,1089.11 352.26,1088.96 352.73,1088.81 353.19,1088.65 353.66,1088.50 354.13,1088.35 354.59,1088.20 355.06,1088.05 355.53,1087.90 356.00,1087.74 356.46,1087.59 356.93,1087.44 357.40,1087.28 357.87,1087.13 358.33,1086.97 358.80,1086.82 359.27,1086.66 359.73,1086.51 360.20,1086.35 360.67,1086.19 361.14,1086.04 361.60,1085.88 362.07,1085.72 362.54,1085.56 363.00,1085.40 363.47,1085.24 363.94,1085.08 364.41,1084.92 364.87,1084.76 365.34,1084.60 365.81,1084.44 366.28,1084.28 366.74,1084.12 367.21,1083.95 367.68,1083.79 368.14,1083.63 368.61,1083.46 369.08,1083.30 369.55,1083.13 370.01,1082.97 370.48,1082.80 370.95,1082.64 371.42,1082.47 371.88,1082.30 372.35,1082.14 372.82,1081.97 373.28,1081.80 373.75,1081.63 374.22,1081.47 374.69,1081.30 375.15,1081.13 375.62,1080.96 376.09,1080.79 376.55,1080.62 377.02,1080.44 377.49,1080.27 377.96,1080.10 378.42,1079.93 378.89,1079.76 379.36,1079.58 379.83,1079.41 380.29,1079.24 380.76,1079.06 381.23,1078.89 381.69,1078.71 382.16,1078.54 382.63,1078.36 383.10,1078.18 383.56,1078.01 384.03,1077.83 384.50,1077.65 384.97,1077.47 385.43,1077.30 385.90,1077.12 386.37,1076.94 386.83,1076.76 387.30,1076.58 387.77,1076.40 388.24,1076.22 388.70,1076.04 389.17,1075.86 389.64,1075.67 390.11,1075.49 390.57,1075.31 391.04,1075.13 391.51,1074.94 391.97,1074.76 392.44,1074.57 392.91,1074.39 393.38,1074.20 393.84,1074.02 394.31,1073.83 394.78,1073.65 395.25,1073.46 395.71,1073.27 396.18,1073.08 396.65,1072.90 397.11,1072.71 397.58,1072.52 398.05,1072.33 398.52,1072.14 398.98,1071.95 399.45,1071.76 399.92,1071.57 400.38,1071.38 400.85,1071.19 401.32,1070.99 401.79,1070.80 402.25,1070.61 402.72,1070.42 403.19,1070.22 403.66,1070.03 404.12,1069.83 404.59,1069.64 405.06,1069.44 405.52,1069.25 405.99,1069.05 406.46,1068.86 406.93,1068.66 407.39,1068.46 407.86,1068.27 408.33,1068.07 408.80,1067.87 409.26,1067.67 409.73,1067.47 410.20,1067.27 410.66,1067.07 411.13,1066.87 411.60,1066.67 412.07,1066.47 412.53,1066.27 413.00,1066.07 413.47,1065.86 413.93,1065.66 414.40,1065.46 414.87,1065.25 415.34,1065.05 415.80,1064.85 416.27,1064.64 416.74,1064.44 417.21,1064.23 417.67,1064.02 418.14,1063.82 418.61,1063.61 419.07,1063.40 419.54,1063.20 420.01,1062.99 420.48,1062.78 420.94,1062.57 421.41,1062.36 421.88,1062.15 422.35,1061.94 422.81,1061.73 423.28,1061.52 423.75,1061.31 424.21,1061.10 424.68,1060.89 425.15,1060.68 425.62,1060.46 426.08,1060.25 426.55,1060.04 427.02,1059.82 427.49,1059.61 427.95,1059.39 428.42,1059.18 428.89,1058.96 429.35,1058.75 429.82,1058.53 430.29,1058.32 430.76,1058.10 431.22,1057.88 431.69,1057.66 432.16,1057.44 432.62,1057.23 433.09,1057.01 433.56,1056.79 434.03,1056.57 434.49,1056.35 434.96,1056.13 435.43,1055.91 435.90,1055.68 436.36,1055.46 436.83,1055.24 437.30,1055.02 437.76,1054.80 438.23,1054.57 438.70,1054.35 439.17,1054.12 439.63,1053.90 440.10,1053.67 440.57,1053.45 441.04,1053.22 441.50,1053.00 441.97,1052.77 442.44,1052.54 442.90,1052.32 443.37,1052.09 443.84,1051.86 444.31,1051.63 444.77,1051.40 445.24,1051.17 445.71,1050.95 446.18,1050.72 446.64,1050.48 447.11,1050.25 447.58,1050.02 448.04,1049.79 448.51,1049.56 448.98,1049.33 449.45,1049.09 449.91,1048.86 450.38,1048.63 450.85,1048.39 451.31,1048.16 451.78,1047.92 452.25,1047.69 452.72,1047.45 453.18,1047.22 453.65,1046.98 454.12,1046.74 454.59,1046.51 455.05,1046.27 455.52,1046.03 455.99,1045.79 456.45,1045.55 456.92,1045.32 457.39,1045.08 457.86,1044.84 458.32,1044.60 458.79,1044.36 459.26,1044.11 459.73,1043.87 460.19,1043.63 460.66,1043.39 461.13,1043.15 461.59,1042.90 462.06,1042.66 462.53,1042.42 463.00,1042.17 463.46,1041.93 463.93,1041.68 464.40,1041.44 464.87,1041.19 465.33,1040.95 465.80,1040.70 466.27,1040.45 466.73,1040.20 467.20,1039.96 467.67,1039.71 468.14,1039.46 468.60,1039.21 469.07,1038.96 469.54,1038.71 470.00,1038.46 470.47,1038.21 470.94,1037.96 471.41,1037.71 471.87,1037.46 472.34,1037.21 472.81,1036.95 473.28,1036.70 473.74,1036.45 474.21,1036.20 474.68,1035.94 475.14,1035.69 475.61,1035.43 476.08,1035.18 476.55,1034.92 477.01,1034.67 477.48,1034.41 477.95,1034.15 478.42,1033.90 478.88,1033.64 479.35,1033.38 479.82,1033.12 480.28,1032.86 480.75,1032.60 481.22,1032.35 481.69,1032.09 482.15,1031.83 482.62,1031.56 483.09,1031.30 483.56,1031.04 484.02,1030.78 484.49,1030.52 484.96,1030.26 485.42,1029.99 485.89,1029.73 486.36,1029.47 486.83,1029.20 487.29,1028.94 487.76,1028.67 488.23,1028.41 488.69,1028.14 489.16,1027.88 489.63,1027.61 490.10,1027.34 490.56,1027.08 491.03,1026.81 491.50,1026.54 491.97,1026.27 492.43,1026.00 492.90,1025.73 493.37,1025.47 493.83,1025.20 494.30,1024.93 494.77,1024.65 495.24,1024.38 495.70,1024.11 496.17,1023.84 496.64,1023.57 497.11,1023.30 497.57,1023.02 498.04,1022.75 498.51,1022.48 498.97,1022.20 499.44,1021.93 499.91,1021.65 500.38,1021.38 500.84,1021.10 501.31,1020.83 501.78,1020.55 502.25,1020.27 502.71,1019.99 503.18,1019.72 503.65,1019.44 504.11,1019.16 504.58,1018.88 505.05,1018.60 505.52,1018.32 505.98,1018.04 506.45,1017.76 506.92,1017.48 507.38,1017.20 507.85,1016.92 508.32,1016.64 508.79,1016.36 509.25,1016.07 509.72,1015.79 510.19,1015.51 510.66,1015.22 511.12,1014.94 511.59,1014.65 512.06,1014.37 512.52,1014.08 512.99,1013.80 513.46,1013.51 513.93,1013.23 514.39,1012.94 514.86,1012.65 515.33,1012.36 515.80,1012.08 516.26,1011.79 516.73,1011.50 517.20,1011.21 517.66,1010.92 518.13,1010.63 518.60,1010.34 519.07,1010.05 519.53,1009.76 520.00,1009.47 520.47,1009.18 520.94,1008.88 521.40,1008.59 521.87,1008.30 522.34,1008.00 522.80,1007.71 523.27,1007.42 523.74,1007.12 524.21,1006.83 524.67,1006.53 525.14,1006.24 525.61,1005.94 526.07,1005.64 526.54,1005.35 527.01,1005.05 527.48,1004.75 527.94,1004.45 528.41,1004.16 528.88,1003.86 529.35,1003.56 529.81,1003.26 530.28,1002.96 530.75,1002.66 531.21,1002.36 531.68,1002.06 532.15,1001.76 532.62,1001.45 533.08,1001.15 533.55,1000.85 534.02,1000.55 534.49,1000.24 534.95,999.94 535.42,999.64 535.89,999.33 536.35,999.03 536.82,998.72 537.29,998.42 537.76,998.11 538.22,997.80 538.69,997.50 539.16,997.19 539.63,996.88 540.09,996.57 540.56,996.27 541.03,995.96 541.49,995.65 541.96,995.34 542.43,995.03 542.90,994.72 543.36,994.41 543.83,994.10 544.30,993.79 544.76,993.47 545.23,993.16 545.70,992.85 546.17,992.54 546.63,992.22 547.10,991.91 547.57,991.60 548.04,991.28 548.50,990.97 548.97,990.65 549.44,990.34 549.90,990.02 550.37,989.71 550.84,989.39 551.31,989.07 551.77,988.75 552.24,988.44 552.71,988.12 553.18,987.80 553.64,987.48 554.11,987.16 554.58,986.84 555.04,986.52 555.51,986.20 555.98,985.88 556.45,985.56 556.91,985.24 557.38,984.92 557.85,984.59 558.32,984.27 558.78,983.95 559.25,983.62 559.72,983.30 560.18,982.98 560.65,982.65 561.12,982.33 561.59,982.00 562.05,981.68 562.52,981.35 562.99,981.02 563.45,980.70 563.92,980.37 564.39,980.04 564.86,979.71 565.32,979.39 565.79,979.06 566.26,978.73 566.73,978.40 567.19,978.07 567.66,977.74 568.13,977.41 568.59,977.08 569.06,976.75 569.53,976.41 570.00,976.08 570.46,975.75 570.93,975.42 571.40,975.08 571.87,974.75 572.33,974.42 572.80,974.08" fill="none" stroke="#1c1cc8" stroke-width="1.6" stroke-linejoin="round" stroke-linecap="round" />
<polyline points="199.00,1100.05 199.47,1100.03 199.93,1100.01 200.40,1099.98 200.87,1099.96 201.34,1099.93 201.80,1099.90 202.27,1099.88 202.74,1099.85 203.21,1099.82 203.67,1099.79 204.14,1099.77 204.61,1099.74 205.07,1099.71 205.54,1099.68 206.01,1099.64 206.48,1099.61 206.94,1099.58 207.41,1099.55 207.88,1099.51 208.34,1099.48 208.81,1099.45 209.28,1099.41 209.75,1099.38 210.21,1099.34 210.68,1099.30 211.15,1099.27 211.62,1099.23 212.08,1099.19 212.55,1099.15 213.02,1099.11 213.48,1099.07 213.95,1099.03 214.42,1098.99 214.89,1098.95 215.35,1098.91 215.82,1098.86 216.29,1098.82 216.76,1098.78 217.22,1098.73 217.69,1098.69 218.16,1098.64 218.62,1098.60 219.09,1098.55 219.56,1098.50 220.03,1098.46 220.49,1098.41 220.96,1098.36 221.43,1098.31 221.90,1098.26 222.36,1098.21 222.83,1098.16 223.30,1098.11 223.76,1098.06 224.23,1098.00 224.70,1097.95 225.17,1097.90 225.63,1097.84 226.10,1097.79 226.57,1097.73 227.03,1097.68 227.50,1097.62 227.97,1097.56 228.44,1097.51 228.90,1097.45 229.37,1097.39 229.84,1097.33 230.31,1097.27 230.77,1097.21 231.24,1097.15 231.71,1097.09 232.17,1097.03 232.64,1096.97 233.11,1096.90 233.58,1096.84 234.04,1096.78 234.51,1096.71 234.98,1096.65 235.45,1096.58 235.91,1096.51 236.38,1096.45 236.85,1096.38 237.31,1096.31 237.78,1096.25 238.25,1096.18 238.72,1096.11 239.18,1096.04 239.65,1095.97 240.12,1095.90 240.59,1095.82 241.05,1095.75 241.52,1095.68 241.99,1095.61 242.45,1095.53 242.92,1095.46 243.39,1095.38 243.86,1095.31 244.32,1095.23 244.79,1095.15 245.26,1095.08 245.72,1095.00 246.19,1094.92 246.66,1094.84 247.13,1094.76 247.59,1094.68 248.06,1094.60 248.53,1094.52 249.00,1094.44 249.46,1094.36 249.93,1094.28 250.40,1094.19 250.86,1094.11 251.33,1094.03 251.80,1093.94 252.27,1093.86 252.73,1093.77 253.20,1093.68 253.67,1093.60 254.14,1093.51 254.60,1093.42 255.07,1093.33 255.54,1093.25 256.00,1093.16 256.47,1093.07 256.94,1092.97 257.41,1092.88 257.87,1092.79 258.34,1092.70 258.81,1092.61 259.28,1092.51 259.74,1092.42 260.21,1092.33 260.68,1092.23 261.14,1092.13 261.61,1092.04 262.08,1091.94 262.55,1091.84 263.01,1091.75 263.48,1091.65 263.95,1091.55 264.41,1091.45 264.88,1091.35 265.35,1091.25 265.82,1091.15 266.28,1091.05 266.75,1090.95 267.22,1090.84 267.69,1090.74 268.15,1090.64 268.62,1090.53 269.09,1090.43 269.55,1090.32 270.02,1090.22 270.49,1090.11 270.96,1090.00 271.42,1089.90 271.89,1089.79 272.36,1089.68 272.83,1089.57 273.29,1089.46 273.76,1089.35 274.23,1089.24 274.69,1089.13 275.16,1089.02 275.63,1088.90 276.10,1088.79 276.56,1088.68 277.03,1088.56 277.50,1088.45 277.97,1088.33 278.43,1088.22 278.90,1088.10 279.37,1087.99 279.83,1087.87 280.30,1087.75 280.77,1087.63 281.24,1087.51 281.70,1087.39 282.17,1087.27 282.64,1087.15 283.11,1087.03 283.57,1086.91 284.04,1086.79 284.51,1086.67 284.97,1086.54 285.44,1086.42 285.91,1086.29 286.38,1086.17 286.84,1086.04 287.31,1085.92 287.78,1085.79 288.24,1085.67 288.71,1085.54 289.18,1085.41 289.65,1085.28 290.11,1085.15 290.58,1085.02 291.05,1084.89 291.52,1084.76 291.98,1084.63 292.45,1084.50 292.92,1084.37 293.38,1084.23 293.85,1084.10 294.32,1083.97 294.79,1083.83 295.25,1083.70 295.72,1083.56 296.19,1083.42 296.66,1083.29 297.12,1083.15 297.59,1083.01 298.06,1082.87 298.52,1082.74 298.99,1082.60 299.46,1082.46 299.93,1082.32 300.39,1082.17 300.86,1082.03 301.33,1081.89 301.80,1081.75 302.26,1081.61 302.73,1081.46 303.20,1081.32 303.66,1081.17 304.13,1081.03 304.60,1080.88 305.07,1080.74 305.53,1080.59 306.00,1080.44 306.47,1080.29 306.93,1080.14 307.40,1080.00 307.87,1079.85 308.34,1079.70 308.80,1079.55 309.27,1079.39 309.74,1079.24 310.21,1079.09 310.67,1078.94 311.14,1078.78 311.61,1078.63 312.07,1078.48 312.54,1078.32 313.01,1078.16 313.48,1078.01 313.94,1077.85 314.41,1077.69 314.88,1077.54 315.35,1077.38 315.81,1077.22 316.28,1077.06 316.75,1076.90 317.21,1076.74 317.68,1076.58 318.15,1076.42 318.62,1076.26 319.08,1076.09 319.55,1075.93 320.02,1075.77 320.49,1075.60 320.95,1075.44 321.42,1075.27 321.89,1075.11 322.35,1074.94 322.82,1074.77 323.29,1074.61 323.76,1074.44 324.22,1074.27 324.69,1074.10 325.16,1073.93 325.62,1073.76 326.09,1073.59 326.56,1073.42 327.03,1073.25 327.49,1073.08 327.96,1072.90 328.43,1072.73 328.90,1072.56 329.36,1072.38 329.83,1072.21 330.30,1072.03 330.76,1071.86 331.23,1071.68 331.70,1071.50 332.17,1071.33 332.63,1071.15 333.10,1070.97 333.57,1070.79 334.04,1070.61 334.50,1070.43 334.97,1070.25 335.44,1070.07 335.90,1069.89 336.37,1069.70 336.84,1069.52 337.31,1069.34 337.77,1069.15 338.24,1068.97 338.71,1068.78 339.17,1068.60 339.64,1068.41 340.11,1068.23 340.58,1068.04 341.04,1067.85 341.51,1067.66 341.98,1067.47 342.45,1067.29 342.91,1067.10 343.38,1066.91 343.85,1066.71 344.31,1066.52 344.78,1066.33 345.25,1066.14 345.72,1065.95 346.18,1065.75 346.65,1065.56 347.12,1065.36 347.59,1065.17 348.05,1064.97 348.52,1064.78 348.99,1064.58 349.45,1064.38 349.92,1064.18 350.39,1063.99 350.86,1063.79 351.32,1063.59 351.79,1063.39 352.26,1063.19 352.73,1062.99 353.19,1062.78 353.66,1062.58 354.13,1062.38 354.59,1062.18 355.06,1061.97 355.53,1061.77 356.00,1061.56 356.46,1061.36 356.93,1061.15 357.40,1060.95 357.87,1060.74 358.33,1060.53 358.80,1060.32 359.27,1060.12 359.73,1059.91 360.20,1059.70 360.67,1059.49 361.14,1059.28 361.60,1059.07 362.07,1058.85 362.54,1058.64 363.00,1058.43 363.47,1058.22 363.94,1058.00 364.41,1057.79 364.87,1057.57 365.34,1057.36 365.81,1057.14 366.28,1056.92 366.74,1056.71 367.21,1056.49 367.68,1056.27 368.14,1056.05 368.61,1055.83 369.08,1055.61 369.55,1055.39 370.01,1055.17 370.48,1054.95 370.95,1054.73 371.42,1054.51 371.88,1054.29 372.35,1054.06 372.82,1053.84 373.28,1053.61 373.75,1053.39 374.22,1053.16 374.69,1052.94 375.15,1052.71 375.62,1052.48 376.09,1052.26 376.55,1052.03 377.02,1051.80 377.49,1051.57 377.96,1051.34 378.42,1051.11 378.89,1050.88 379.36,1050.65 379.83,1050.42 380.29,1050.18 380.76,1049.95 381.23,1049.72 381.69,1049.48 382.16,1049.25 382.63,1049.01 383.10,1048.78 383.56,1048.54 384.03,1048.31 384.50,1048.07 384.97,1047.83 385.43,1047.59 385.90,1047.35 386.37,1047.11 386.83,1046.87 387.30,1046.63 387.77,1046.39 388.24,1046.15 388.70,1045.91 389.17,1045.67 389.64,1045.42 390.11,1045.18 390.57,1044.94 391.04,1044.69 391.51,1044.45 391.97,1044.20 392.44,1043.96 392.91,1043.71 393.38,1043.46 393.84,1043.21 394.31,1042.97 394.78,1042.72 395.25,1042.47 395.71,1042.22 396.18,1041.97 396.65,1041.72 397.11,1041.46 397.58,1041.21 398.05,1040.96 398.52,1040.71 398.98,1040.45 399.45,1040.20 399.92,1039.94 400.38,1039.69 400.85,1039.43 401.32,1039.18 401.79,1038.92 402.25,1038.66 402.72,1038.41 403.19,1038.15 403.66,1037.89 404.12,1037.63 404.59,1037.37 405.06,1037.11 405.52,1036.85 405.99,1036.59 406.46,1036.32 406.93,1036.06 407.39,1035.80 407.86,1035.54 408.33,1035.27 408.80,1035.01 409.26,1034.74 409.73,1034.48 410.20,1034.21 410.66,1033.94 411.13,1033.68 411.60,1033.41 412.07,1033.14 412.53,1032.87 413.00,1032.60 413.47,1032.33 413.93,1032.06 414.40,1031.79 414.87,1031.52 415.34,1031.25 415.80,1030.97 416.27,1030.70 416.74,1030.43 417.21,1030.15 417.67,1029.88 418.14,1029.60 418.61,1029.33 419.07,1029.05 419.54,1028.78 420.01,1028.50 420.48,1028.22 420.94,1027.94 421.41,1027.66 421.88,1027.38 422.35,1027.10 422.81,1026.82 423.28,1026.54 423.75,1026.26 424.21,1025.98 424.68,1025.70 425.15,1025.41 425.62,1025.13 426.08,1024.85 426.55,1024.56 427.02,1024.28 427.49,1023.99 427.95,1023.70 428.42,1023.42 428.89,1023.13 429.35,1022.84 429.82,1022.55 430.29,1022.26 430.76,1021.98 431.22,1021.69 431.69,1021.40 432.16,1021.10 432.62,1020.81 433.09,1020.52 433.56,1020.23 434.03,1019.94 434.49,1019.64 434.96,1019.35 435.43,1019.05 435.90,1018.76 436.36,1018.46 436.83,1018.17 437.30,1017.87 437.76,1017.57 438.23,1017.27 438.70,1016.98 439.17,1016.68 439.63,1016.38 440.10,1016.08 440.57,1015.78 441.04,1015.48 441.50,1015.18 441.97,1014.87 442.44,1014.57 442.90,1014.27 443.37,1013.97 443.84,1013.66 444.31,1013.36 444.77,1013.05 445.24,1012.75 445.71,1012.44 446.18,1012.13 446.64,1011.83 447.11,1011.52 447.58,1011.21 448.04,1010.90 448.51,1010.59 448.98,1010.28 449.45,1009.97 449.91,1009.66 450.38,1009.35 450.85,1009.04 451.31,1008.73 451.78,1008.41 452.25,1008.10 452.72,1007.79 453.18,1007.47 453.65,1007.16 454.12,1006.84 454.59,1006.52 455.05,1006.21 455.52,1005.89 455.99,1005.57 456.45,1005.26 456.92,1004.94 457.39,1004.62 457.86,1004.30 458.32,1003.98 458.79,1003.66 459.26,1003.34 459.73,1003.01 460.19,1002.69 460.66,1002.37 461.13,1002.05 461.59,1001.72 462.06,1001.40 462.53,1001.07 463.00,1000.75 463.46,1000.42 463.93,1000.09 464.40,999.77 464.87,999.44 465.33,999.11 465.80,998.78 466.27,998.45 466.73,998.13 467.20,997.79 467.67,997.46 468.14,997.13 468.60,996.80 469.07,996.47 469.54,996.14 470.00,995.80 470.47,995.47 470.94,995.14 471.41,994.80 471.87,994.47 472.34,994.13 472.81,993.79 473.28,993.46 473.74,993.12 474.21,992.78 474.68,992.44 475.14,992.10 475.61,991.76 476.08,991.42 476.55,991.08 477.01,990.74 477.48,990.40 477.95,990.06 478.42,989.72 478.88,989.37 479.35,989.03 479.82,988.69 480.28,988.34 480.75,988.00 481.22,987.65 481.69,987.30 482.15,986.96 482.62,986.61 483.09,986.26 483.56,985.91 484.02,985.57 484.49,985.22 484.96,984.87 485.42,984.52 485.89,984.16 486.36,983.81 486.83,983.46 487.29,983.11 487.76,982.76 488.23,982.40 488.69,982.05 489.16,981.69 489.63,981.34 490.10,980.98 490.56,980.63 491.03,980.27 491.50,979.91 491.97,979.56 492.43,979.20 492.90,978.84 493.37,978.48 493.83,978.12 494.30,977.76 494.77,977.40 495.24,977.04 495.70,976.68 496.17,976.31 496.64,975.95 497.11,975.59 497.57,975.22 498.04,974.86 498.51,974.50 498.97,974.13 499.44,973.76 499.91,973.40 500.38,973.03 500.84,972.66 501.31,972.30 501.78,971.93 502.25,971.56 502.71,971.19 503.18,970.82 503.65,970.45 504.11,970.08 504.58,969.71 505.05,969.33 505.52,968.96 505.98,968.59 506.45,968.21 506.92,967.84 507.38,967.46 507.85,967.09 508.32,966.71 508.79,966.34 509.25,965.96 509.72,965.58 510.19,965.21 510.66,964.83 511.12,964.45 511.59,964.07 512.06,963.69 512.52,963.31 512.99,962.93 513.46,962.55 513.93,962.17 514.39,961.78 514.86,961.40 515.33,961.02 515.80,960.63 516.26,960.25 516.73,959.86 517.20,959.48 517.66,959.09 518.13,958.70 518.60,958.32 519.07,957.93 519.53,957.54 520.00,957.15 520.47,956.76 520.94,956.37 521.40,955.98 521.87,955.59 522.34,955.20 522.80,954.81 523.27,954.42 523.74,954.03 524.21,953.63 524.67,953.24 525.14,952.85 525.61,952.45 526.07,952.06 526.54,951.66 527.01,951.26 527.48,950.87 527.94,950.47 528.41,950.07 528.88,949.67 529.35,949.27 529.81,948.87 530.28,948.47 530.75,948.07 531.21,947.67 531.68,947.27 532.15,946.87" fill="none" stroke="#6a1a6a" stroke-width="1.6" stroke-linejoin="round" stroke-linecap="round" />
<rect x="218.00" y="969.40" width="111.40" height="60.60" stroke="#8a8a8a" stroke-width="1" fill="#fff" />
<line x1="232.00" y1="976.60" x2="245.60" y2="976.60" stroke="#d8344e" stroke-width="1.7" />
<text x="247.40" y="979.80" font-size="8.904" font-weight="normal" fill="#111" >9 kHz to 50 MHz</text>
<line x1="232.00" y1="992.00" x2="245.60" y2="992.00" stroke="#3cc83c" stroke-width="1.7" />
<text x="247.40" y="995.20" font-size="8.866" font-weight="normal" fill="#111" >50 MHz to 2 GHz</text>
<line x1="232.00" y1="1006.40" x2="245.60" y2="1006.40" stroke="#3a30d8" stroke-width="1.7" />
<text x="247.40" y="1009.60" font-size="8.839" font-weight="normal" fill="#111" >2 GHz to 8 GHz</text>
<line x1="232.00" y1="1021.60" x2="245.60" y2="1021.60" stroke="#4e1a4c" stroke-width="1.7" />
<text x="247.40" y="1024.80" font-size="8.877" font-weight="normal" fill="#111" >8 GHz to 20 GHz</text>
<rect x="316.50" y="950.80" width="248.80" height="13.50" stroke="#7a7a7a" stroke-width="1" fill="#fff" />
<text x="319.80" y="960.00" font-size="8.866" font-weight="normal" fill="#111" >S21 = S12 = 0; Cal power = -10 dBm; Meas power = -10 dBm</text>
<rect x="393.50" y="966.30" width="171.80" height="13.20" stroke="#7a7a7a" stroke-width="1" fill="#fff" />
<text x="397.00" y="975.80" font-size="8.782" font-weight="normal" fill="#111" >IF Bandwidth = 10 Hz; Average Factor = 1</text>
<rect x="272.50" y="928.60" width="226.70" height="15.40" stroke="#9a9a9a" stroke-width="1" fill="#fff" />
<text x="275.50" y="940.40" font-size="11.090" font-weight="normal" fill="#111" >E5080B 4K0/140 with 85052D Calibration Kit</text>
<text x="296.50" y="920.50" font-size="13.623" font-weight="bold" fill="#000" >S11 Magnitude Accuracy</text>
<text x="183.34" y="1179.00" font-size="11.100" font-weight="normal" fill="#111" >0</text>
<text x="167.91" y="1133.32" font-size="11.100" font-weight="normal" fill="#111" >0.01</text>
<text x="167.91" y="1087.64" font-size="11.100" font-weight="normal" fill="#111" >0.02</text>
<text x="167.91" y="1041.96" font-size="11.100" font-weight="normal" fill="#111" >0.03</text>
<text x="167.91" y="996.28" font-size="11.100" font-weight="normal" fill="#111" >0.04</text>
<text x="167.91" y="950.60" font-size="11.100" font-weight="normal" fill="#111" >0.05</text>
<text x="195.95" y="1192.00" font-size="11.000" font-weight="normal" fill="#111" >0</text>
<text x="266.12" y="1192.00" font-size="11.000" font-weight="normal" fill="#111" >0.2</text>
<text x="340.88" y="1192.00" font-size="11.000" font-weight="normal" fill="#111" >0.4</text>
<text x="415.63" y="1192.00" font-size="11.000" font-weight="normal" fill="#111" >0.6</text>
<text x="490.39" y="1192.00" font-size="11.000" font-weight="normal" fill="#111" >0.8</text>
<text x="569.75" y="1192.00" font-size="11.000" font-weight="normal" fill="#111" >1</text>
<text x="297.00" y="1209.00" font-size="12.464" font-weight="bold" fill="#000" >Reflection Coefficient (Linear)</text>
<g transform="translate(158.0,1061.0) rotate(-90)">
<text x="-58.60" y="0.00" font-size="12.409" font-weight="bold" fill="#000" >Uncertainty (Linear)</text>
</g>
<rect x="646.50" y="899.30" width="469.80" height="320.00" stroke="#3c3c3c" stroke-width="1.3" fill="#fff" />
<line x1="694.50" y1="992.20" x2="1077.60" y2="992.20" stroke="#cdcdcd" stroke-width="1" />
<line x1="694.50" y1="1037.90" x2="1077.60" y2="1037.90" stroke="#cdcdcd" stroke-width="1" />
<line x1="694.50" y1="1083.60" x2="1077.60" y2="1083.60" stroke="#cdcdcd" stroke-width="1" />
<line x1="694.50" y1="1129.30" x2="1077.60" y2="1129.30" stroke="#cdcdcd" stroke-width="1" />
<line x1="694.50" y1="946.50" x2="1077.60" y2="946.50" stroke="#9a9a9a" stroke-width="1" />
<line x1="694.50" y1="946.50" x2="694.50" y2="1175.00" stroke="#8c8c8c" stroke-width="0.95" />
<line x1="771.12" y1="946.50" x2="771.12" y2="1175.00" stroke="#c4c4c4" stroke-width="0.95" />
<line x1="847.74" y1="946.50" x2="847.74" y2="1175.00" stroke="#808080" stroke-width="0.95" />
<line x1="924.36" y1="946.50" x2="924.36" y2="1175.00" stroke="#747474" stroke-width="0.95" />
<line x1="1000.98" y1="946.50" x2="1000.98" y2="1175.00" stroke="#747474" stroke-width="0.95" />
<polyline points="712.28,946.50 712.70,951.78 713.18,957.46 713.65,962.85 714.13,967.98 714.61,972.86 715.09,977.52 715.57,981.96 716.05,986.20 716.53,990.25 717.01,994.13 717.49,997.85 717.96,1001.41 718.44,1004.83 718.92,1008.12 719.40,1011.27 719.88,1014.31 720.36,1017.23 720.84,1020.04 721.32,1022.75 721.80,1025.37 722.27,1027.89 722.75,1030.32 723.23,1032.68 723.71,1034.95 724.19,1037.15 724.67,1039.28 725.15,1041.34 725.63,1043.34 726.11,1045.27 726.58,1047.15 727.06,1048.97 727.54,1050.73 728.02,1052.45 728.50,1054.11 728.98,1055.73 729.46,1057.30 729.94,1058.83 730.42,1060.31 730.89,1061.76 731.37,1063.17 731.85,1064.54 732.33,1065.87 732.81,1067.17 733.29,1068.44 733.77,1069.67 734.25,1070.88 734.73,1072.05 735.20,1073.20 735.68,1074.32 736.16,1075.41 736.64,1076.47 737.12,1077.51 737.60,1078.53 738.08,1079.53 738.56,1080.50 739.04,1081.45 739.51,1082.38 739.99,1083.28 740.47,1084.17 740.95,1085.04 741.43,1085.89 741.91,1086.72 742.39,1087.54 742.87,1088.34 743.35,1089.12 743.82,1089.89 744.30,1090.64 744.78,1091.37 745.26,1092.09 745.74,1092.80 746.22,1093.49 746.70,1094.17 747.18,1094.84 747.66,1095.49 748.13,1096.13 748.61,1096.76 749.09,1097.38 749.57,1097.99 750.05,1098.58 750.53,1099.17 751.01,1099.74 751.49,1100.30 751.97,1100.86 752.44,1101.40 752.92,1101.93 753.40,1102.46 753.88,1102.97 754.36,1103.48 754.84,1103.98 755.32,1104.47 755.80,1104.95 756.27,1105.42 756.75,1105.89 757.23,1106.35 757.71,1106.80 758.19,1107.24 758.67,1107.68 759.15,1108.10 759.63,1108.53 760.11,1108.94 760.58,1109.35 761.06,1109.75 761.54,1110.15 762.02,1110.54 762.50,1110.92 762.98,1111.30 763.46,1111.67 763.94,1112.04 764.42,1112.40 764.89,1112.76 765.37,1113.11 765.85,1113.45 766.33,1113.79 766.81,1114.13 767.29,1114.46 767.77,1114.78 768.25,1115.10 768.73,1115.42 769.20,1115.73 769.68,1116.04 770.16,1116.34 770.64,1116.64 771.12,1116.93 771.60,1117.22 772.08,1117.51 772.56,1117.79 773.04,1118.07 773.51,1118.34 773.99,1118.61 774.47,1118.88 774.95,1119.14 775.43,1119.40 775.91,1119.66 776.39,1119.91 776.87,1120.16 777.35,1120.41 777.82,1120.65 778.30,1120.89 778.78,1121.13 779.26,1121.36 779.74,1121.60 780.22,1121.82 780.70,1122.05 781.18,1122.27 781.66,1122.49 782.13,1122.71 782.61,1122.92 783.09,1123.13 783.57,1123.34 784.05,1123.55 784.53,1123.75 785.01,1123.95 785.49,1124.15 785.97,1124.34 786.44,1124.54 786.92,1124.73 787.40,1124.92 787.88,1125.10 788.36,1125.29 788.84,1125.47 789.32,1125.65 789.80,1125.83 790.27,1126.00 790.75,1126.18 791.23,1126.35 791.71,1126.52 792.19,1126.68 792.67,1126.85 793.15,1127.01 793.63,1127.18 794.11,1127.34 794.58,1127.49 795.06,1127.65 795.54,1127.80 796.02,1127.96 796.50,1128.11 796.98,1128.26 797.46,1128.40 797.94,1128.55 798.42,1128.69 798.89,1128.84 799.37,1128.98 799.85,1129.12 800.33,1129.25 800.81,1129.39 801.29,1129.53 801.77,1129.66 802.25,1129.79 802.73,1129.92 803.20,1130.05 803.68,1130.18 804.16,1130.30 804.64,1130.43 805.12,1130.55 805.60,1130.67 806.08,1130.79 806.56,1130.91 807.04,1131.03 807.51,1131.15 807.99,1131.26 808.47,1131.38 808.95,1131.49 809.43,1131.60 809.91,1131.71 810.39,1131.82 810.87,1131.93 811.35,1132.04 811.82,1132.15 812.30,1132.25 812.78,1132.35 813.26,1132.46 813.74,1132.56 814.22,1132.66 814.70,1132.76 815.18,1132.86 815.66,1132.96 816.13,1133.05 816.61,1133.15 817.09,1133.24 817.57,1133.34 818.05,1133.43 818.53,1133.52 819.01,1133.61 819.49,1133.70 819.97,1133.79 820.44,1133.88 820.92,1133.97 821.40,1134.05 821.88,1134.14 822.36,1134.22 822.84,1134.31 823.32,1134.39 823.80,1134.47 824.28,1134.55 824.75,1134.63 825.23,1134.71 825.71,1134.79 826.19,1134.87 826.67,1134.95 827.15,1135.02 827.63,1135.10 828.11,1135.17 828.58,1135.25 829.06,1135.32 829.54,1135.40 830.02,1135.47 830.50,1135.54 830.98,1135.61 831.46,1135.68 831.94,1135.75 832.42,1135.82 832.89,1135.89 833.37,1135.95 833.85,1136.02 834.33,1136.09 834.81,1136.15 835.29,1136.22 835.77,1136.28 836.25,1136.34 836.73,1136.41 837.20,1136.47 837.68,1136.53 838.16,1136.59 838.64,1136.65 839.12,1136.71 839.60,1136.77 840.08,1136.83 840.56,1136.89 841.04,1136.95 841.51,1137.00 841.99,1137.06 842.47,1137.12 842.95,1137.17 843.43,1137.23 843.91,1137.28 844.39,1137.33 844.87,1137.39 845.35,1137.44 845.82,1137.49 846.30,1137.54 846.78,1137.60 847.26,1137.65 847.74,1137.70 848.22,1137.75 848.70,1137.80 849.18,1137.85 849.66,1137.89 850.13,1137.94 850.61,1137.99 851.09,1138.04 851.57,1138.08 852.05,1138.13 852.53,1138.18 853.01,1138.22 853.49,1138.27 853.97,1138.31 854.44,1138.35 854.92,1138.40 855.40,1138.44 855.88,1138.48 856.36,1138.53 856.84,1138.57 857.32,1138.61 857.80,1138.65 858.28,1138.69 858.75,1138.73 859.23,1138.77 859.71,1138.81 860.19,1138.85 860.67,1138.89 861.15,1138.93 861.63,1138.97 862.11,1139.01 862.59,1139.04 863.06,1139.08 863.54,1139.12 864.02,1139.16 864.50,1139.19 864.98,1139.23 865.46,1139.26 865.94,1139.30 866.42,1139.33 866.89,1139.37 867.37,1139.40 867.85,1139.44 868.33,1139.47 868.81,1139.50 869.29,1139.54 869.77,1139.57 870.25,1139.60 870.73,1139.63 871.20,1139.66 871.68,1139.70 872.16,1139.73 872.64,1139.76 873.12,1139.79 873.60,1139.82 874.08,1139.85 874.56,1139.88 875.04,1139.91 875.51,1139.94 875.99,1139.97 876.47,1140.00 876.95,1140.02 877.43,1140.05 877.91,1140.08 878.39,1140.11 878.87,1140.13 879.35,1140.16 879.82,1140.19 880.30,1140.21 880.78,1140.24 881.26,1140.27 881.74,1140.29 882.22,1140.32 882.70,1140.34 883.18,1140.37 883.66,1140.39 884.13,1140.42 884.61,1140.44 885.09,1140.47 885.57,1140.49 886.05,1140.51 886.53,1140.54 887.01,1140.56 887.49,1140.58 887.97,1140.61 888.44,1140.63 888.92,1140.65 889.40,1140.67 889.88,1140.70 890.36,1140.72 890.84,1140.74 891.32,1140.76 891.80,1140.78 892.28,1140.80 892.75,1140.82 893.23,1140.84 893.71,1140.86 894.19,1140.88 894.67,1140.90 895.15,1140.92 895.63,1140.94 896.11,1140.96 896.59,1140.98 897.06,1141.00 897.54,1141.02 898.02,1141.04 898.50,1141.06 898.98,1141.08 899.46,1141.09 899.94,1141.11 900.42,1141.13 900.90,1141.15 901.37,1141.16 901.85,1141.18 902.33,1141.20 902.81,1141.22 903.29,1141.23 903.77,1141.25 904.25,1141.27 904.73,1141.28 905.20,1141.30 905.68,1141.31 906.16,1141.33 906.64,1141.34 907.12,1141.36 907.60,1141.38 908.08,1141.39 908.56,1141.41 909.04,1141.42 909.51,1141.44 909.99,1141.45 910.47,1141.46 910.95,1141.48 911.43,1141.49 911.91,1141.51 912.39,1141.52 912.87,1141.53 913.35,1141.55 913.82,1141.56 914.30,1141.57 914.78,1141.59 915.26,1141.60 915.74,1141.61 916.22,1141.63 916.70,1141.64 917.18,1141.65 917.66,1141.66 918.13,1141.68 918.61,1141.69 919.09,1141.70 919.57,1141.71 920.05,1141.72 920.53,1141.74 921.01,1141.75 921.49,1141.76 921.97,1141.77 922.44,1141.78 922.92,1141.79 923.40,1141.80 923.88,1141.81 924.36,1141.82 924.84,1141.83 925.32,1141.85 925.80,1141.86 926.28,1141.87 926.75,1141.88 927.23,1141.89 927.71,1141.90 928.19,1141.91 928.67,1141.92 929.15,1141.92 929.63,1141.93 930.11,1141.94 930.59,1141.95 931.06,1141.96 931.54,1141.97 932.02,1141.98 932.50,1141.99 932.98,1142.00 933.46,1142.01 933.94,1142.02 934.42,1142.02 934.90,1142.03 935.37,1142.04 935.85,1142.05 936.33,1142.06 936.81,1142.06 937.29,1142.07 937.77,1142.08 938.25,1142.09 938.73,1142.10 939.21,1142.10 939.68,1142.11 940.16,1142.12 940.64,1142.13 941.12,1142.13 941.60,1142.14 942.08,1142.15 942.56,1142.15 943.04,1142.16 943.51,1142.17 943.99,1142.17 944.47,1142.18 944.95,1142.19 945.43,1142.19 945.91,1142.20 946.39,1142.21 946.87,1142.21 947.35,1142.22 947.82,1142.23 948.30,1142.23 948.78,1142.24 949.26,1142.24 949.74,1142.25 950.22,1142.26 950.70,1142.26 951.18,1142.27 951.66,1142.27 952.13,1142.28 952.61,1142.28 953.09,1142.29 953.57,1142.29 954.05,1142.30 954.53,1142.30 955.01,1142.31 955.49,1142.31 955.97,1142.32 956.44,1142.32 956.92,1142.33 957.40,1142.33 957.88,1142.34 958.36,1142.34 958.84,1142.35 959.32,1142.35 959.80,1142.36 960.28,1142.36 960.75,1142.37 961.23,1142.37 961.71,1142.37 962.19,1142.38 962.67,1142.38 963.15,1142.39 963.63,1142.39 964.11,1142.39 964.59,1142.40 965.06,1142.40 965.54,1142.41 966.02,1142.41 966.50,1142.41 966.98,1142.42 967.46,1142.42 967.94,1142.42 968.42,1142.43 968.90,1142.43 969.37,1142.43 969.85,1142.44 970.33,1142.44 970.81,1142.44 971.29,1142.45 971.77,1142.45 972.25,1142.45 972.73,1142.46 973.21,1142.46 973.68,1142.46 974.16,1142.47 974.64,1142.47 975.12,1142.47 975.60,1142.47 976.08,1142.48 976.56,1142.48 977.04,1142.48 977.52,1142.48 977.99,1142.49 978.47,1142.49 978.95,1142.49 979.43,1142.49 979.91,1142.50 980.39,1142.50 980.87,1142.50 981.35,1142.50 981.82,1142.51 982.30,1142.51 982.78,1142.51 983.26,1142.51 983.74,1142.52 984.22,1142.52 984.70,1142.52 985.18,1142.52 985.66,1142.52 986.13,1142.53 986.61,1142.53 987.09,1142.53 987.57,1142.53 988.05,1142.53 988.53,1142.53 989.01,1142.54 989.49,1142.54 989.97,1142.54 990.44,1142.54 990.92,1142.54 991.40,1142.54 991.88,1142.55 992.36,1142.55 992.84,1142.55 993.32,1142.55 993.80,1142.55 994.28,1142.55 994.75,1142.55 995.23,1142.56 995.71,1142.56 996.19,1142.56 996.67,1142.56 997.15,1142.56 997.63,1142.56 998.11,1142.56 998.59,1142.56 999.06,1142.56 999.54,1142.57 1000.02,1142.57 1000.50,1142.57 1000.98,1142.57 1001.46,1142.57 1001.94,1142.57 1002.42,1142.57 1002.90,1142.57 1003.37,1142.57 1003.85,1142.57 1004.33,1142.58 1004.81,1142.58 1005.29,1142.58 1005.77,1142.58 1006.25,1142.58 1006.73,1142.58 1007.21,1142.58 1007.68,1142.58 1008.16,1142.58 1008.64,1142.58 1009.12,1142.58 1009.60,1142.58 1010.08,1142.58 1010.56,1142.58 1011.04,1142.58 1011.52,1142.59 1011.99,1142.59 1012.47,1142.59 1012.95,1142.59 1013.43,1142.59 1013.91,1142.59 1014.39,1142.59 1014.87,1142.59 1015.35,1142.59 1015.83,1142.59 1016.30,1142.59 1016.78,1142.59 1017.26,1142.59 1017.74,1142.59 1018.22,1142.59 1018.70,1142.59 1019.18,1142.59 1019.66,1142.59 1020.13,1142.59 1020.61,1142.59 1021.09,1142.59 1021.57,1142.59 1022.05,1142.59 1022.53,1142.59 1023.01,1142.59 1023.49,1142.59 1023.97,1142.59 1024.44,1142.59 1024.92,1142.59 1025.40,1142.59 1025.88,1142.59 1026.36,1142.59 1026.84,1142.59 1027.32,1142.59 1027.80,1142.59 1028.28,1142.59 1028.75,1142.59 1029.23,1142.59 1029.71,1142.59 1030.19,1142.59 1030.67,1142.59 1031.15,1142.59 1031.63,1142.59 1032.11,1142.59 1032.59,1142.59 1033.06,1142.59 1033.54,1142.59 1034.02,1142.59 1034.50,1142.59 1034.98,1142.59 1035.46,1142.59 1035.94,1142.59 1036.42,1142.59 1036.90,1142.59 1037.37,1142.59 1037.85,1142.59 1038.33,1142.59 1038.81,1142.59 1039.29,1142.59 1039.77,1142.59 1040.25,1142.59 1040.73,1142.59 1041.21,1142.59 1041.68,1142.59 1042.16,1142.59 1042.64,1142.59 1043.12,1142.59 1043.60,1142.59 1044.08,1142.59 1044.56,1142.59 1045.04,1142.59 1045.52,1142.59 1045.99,1142.59 1046.47,1142.59 1046.95,1142.59 1047.43,1142.59 1047.91,1142.59 1048.39,1142.59 1048.87,1142.59 1049.35,1142.59 1049.83,1142.59 1050.30,1142.59 1050.78,1142.59 1051.26,1142.59 1051.74,1142.59 1052.22,1142.59 1052.70,1142.59 1053.18,1142.59 1053.66,1142.59 1054.14,1142.59 1054.61,1142.59 1055.09,1142.59 1055.57,1142.59 1056.05,1142.59 1056.53,1142.59 1057.01,1142.59 1057.49,1142.59 1057.97,1142.59 1058.44,1142.59 1058.92,1142.59 1059.40,1142.59 1059.88,1142.59 1060.36,1142.59 1060.84,1142.59 1061.32,1142.59 1061.80,1142.59 1062.28,1142.59 1062.75,1142.59 1063.23,1142.59 1063.71,1142.59 1064.19,1142.59 1064.67,1142.58 1065.15,1142.58 1065.63,1142.58 1066.11,1142.58 1066.59,1142.58 1067.06,1142.58 1067.54,1142.58 1068.02,1142.58 1068.50,1142.58 1068.98,1142.58 1069.46,1142.58 1069.94,1142.58 1070.42,1142.58 1070.90,1142.58 1071.37,1142.58 1071.85,1142.58 1072.33,1142.58 1072.81,1142.58 1073.29,1142.58 1073.77,1142.58 1074.25,1142.58 1074.73,1142.58 1075.21,1142.58 1075.68,1142.58 1076.16,1142.58 1076.64,1142.58 1077.12,1142.58 1077.60,1142.58" fill="none" stroke="#e0202a" stroke-width="1.6" stroke-linejoin="round" stroke-linecap="round" />
<polyline points="712.32,946.50 712.70,951.24 713.18,956.93 713.65,962.33 714.13,967.46 714.61,972.35 715.09,977.01 715.57,981.46 716.05,985.70 716.53,989.76 717.01,993.65 717.49,997.37 717.96,1000.94 718.44,1004.36 718.92,1007.65 719.40,1010.81 719.88,1013.86 720.36,1016.78 720.84,1019.60 721.32,1022.32 721.80,1024.94 722.27,1027.46 722.75,1029.91 723.23,1032.26 723.71,1034.54 724.19,1036.75 724.67,1038.88 725.15,1040.95 725.63,1042.95 726.11,1044.89 726.58,1046.77 727.06,1048.60 727.54,1050.37 728.02,1052.08 728.50,1053.75 728.98,1055.38 729.46,1056.95 729.94,1058.48 730.42,1059.98 730.89,1061.43 731.37,1062.84 731.85,1064.21 732.33,1065.55 732.81,1066.86 733.29,1068.13 733.77,1069.37 734.25,1070.58 734.73,1071.76 735.20,1072.91 735.68,1074.03 736.16,1075.13 736.64,1076.20 737.12,1077.25 737.60,1078.27 738.08,1079.27 738.56,1080.24 739.04,1081.20 739.51,1082.13 739.99,1083.04 740.47,1083.94 740.95,1084.81 741.43,1085.67 741.91,1086.50 742.39,1087.32 742.87,1088.13 743.35,1088.91 743.82,1089.68 744.30,1090.44 744.78,1091.18 745.26,1091.90 745.74,1092.61 746.22,1093.31 746.70,1094.00 747.18,1094.67 747.66,1095.32 748.13,1095.97 748.61,1096.60 749.09,1097.23 749.57,1097.84 750.05,1098.44 750.53,1099.03 751.01,1099.60 751.49,1100.17 751.97,1100.73 752.44,1101.28 752.92,1101.81 753.40,1102.34 753.88,1102.86 754.36,1103.37 754.84,1103.88 755.32,1104.37 755.80,1104.86 756.27,1105.33 756.75,1105.80 757.23,1106.27 757.71,1106.72 758.19,1107.17 758.67,1107.61 759.15,1108.04 759.63,1108.47 760.11,1108.89 760.58,1109.30 761.06,1109.71 761.54,1110.11 762.02,1110.50 762.50,1110.89 762.98,1111.27 763.46,1111.65 763.94,1112.02 764.42,1112.38 764.89,1112.74 765.37,1113.10 765.85,1113.45 766.33,1113.79 766.81,1114.13 767.29,1114.46 767.77,1114.79 768.25,1115.12 768.73,1115.44 769.20,1115.75 769.68,1116.06 770.16,1116.37 770.64,1116.67 771.12,1116.97 771.60,1117.27 772.08,1117.56 772.56,1117.84 773.04,1118.12 773.51,1118.40 773.99,1118.68 774.47,1118.95 774.95,1119.22 775.43,1119.48 775.91,1119.74 776.39,1120.00 776.87,1120.25 777.35,1120.50 777.82,1120.75 778.30,1120.99 778.78,1121.23 779.26,1121.47 779.74,1121.71 780.22,1121.94 780.70,1122.17 781.18,1122.39 781.66,1122.62 782.13,1122.84 782.61,1123.05 783.09,1123.27 783.57,1123.48 784.05,1123.69 784.53,1123.90 785.01,1124.10 785.49,1124.30 785.97,1124.50 786.44,1124.70 786.92,1124.89 787.40,1125.09 787.88,1125.28 788.36,1125.46 788.84,1125.65 789.32,1125.83 789.80,1126.02 790.27,1126.19 790.75,1126.37 791.23,1126.55 791.71,1126.72 792.19,1126.89 792.67,1127.06 793.15,1127.23 793.63,1127.39 794.11,1127.56 794.58,1127.72 795.06,1127.88 795.54,1128.03 796.02,1128.19 796.50,1128.35 796.98,1128.50 797.46,1128.65 797.94,1128.80 798.42,1128.95 798.89,1129.09 799.37,1129.24 799.85,1129.38 800.33,1129.52 800.81,1129.66 801.29,1129.80 801.77,1129.93 802.25,1130.07 802.73,1130.20 803.20,1130.34 803.68,1130.47 804.16,1130.60 804.64,1130.72 805.12,1130.85 805.60,1130.98 806.08,1131.10 806.56,1131.22 807.04,1131.34 807.51,1131.46 807.99,1131.58 808.47,1131.70 808.95,1131.82 809.43,1131.93 809.91,1132.05 810.39,1132.16 810.87,1132.27 811.35,1132.38 811.82,1132.49 812.30,1132.60 812.78,1132.71 813.26,1132.81 813.74,1132.92 814.22,1133.02 814.70,1133.12 815.18,1133.23 815.66,1133.33 816.13,1133.43 816.61,1133.52 817.09,1133.62 817.57,1133.72 818.05,1133.82 818.53,1133.91 819.01,1134.00 819.49,1134.10 819.97,1134.19 820.44,1134.28 820.92,1134.37 821.40,1134.46 821.88,1134.55 822.36,1134.64 822.84,1134.72 823.32,1134.81 823.80,1134.89 824.28,1134.98 824.75,1135.06 825.23,1135.14 825.71,1135.23 826.19,1135.31 826.67,1135.39 827.15,1135.47 827.63,1135.54 828.11,1135.62 828.58,1135.70 829.06,1135.78 829.54,1135.85 830.02,1135.93 830.50,1136.00 830.98,1136.07 831.46,1136.15 831.94,1136.22 832.42,1136.29 832.89,1136.36 833.37,1136.43 833.85,1136.50 834.33,1136.57 834.81,1136.64 835.29,1136.71 835.77,1136.77 836.25,1136.84 836.73,1136.90 837.20,1136.97 837.68,1137.03 838.16,1137.10 838.64,1137.16 839.12,1137.22 839.60,1137.29 840.08,1137.35 840.56,1137.41 841.04,1137.47 841.51,1137.53 841.99,1137.59 842.47,1137.65 842.95,1137.70 843.43,1137.76 843.91,1137.82 844.39,1137.87 844.87,1137.93 845.35,1137.99 845.82,1138.04 846.30,1138.10 846.78,1138.15 847.26,1138.20 847.74,1138.26 848.22,1138.31 848.70,1138.36 849.18,1138.41 849.66,1138.46 850.13,1138.51 850.61,1138.56 851.09,1138.61 851.57,1138.66 852.05,1138.71 852.53,1138.76 853.01,1138.81 853.49,1138.85 853.97,1138.90 854.44,1138.95 854.92,1138.99 855.40,1139.04 855.88,1139.08 856.36,1139.13 856.84,1139.17 857.32,1139.22 857.80,1139.26 858.28,1139.30 858.75,1139.35 859.23,1139.39 859.71,1139.43 860.19,1139.47 860.67,1139.52 861.15,1139.56 861.63,1139.60 862.11,1139.64 862.59,1139.68 863.06,1139.72 863.54,1139.76 864.02,1139.79 864.50,1139.83 864.98,1139.87 865.46,1139.91 865.94,1139.95 866.42,1139.98 866.89,1140.02 867.37,1140.06 867.85,1140.09 868.33,1140.13 868.81,1140.16 869.29,1140.20 869.77,1140.23 870.25,1140.27 870.73,1140.30 871.20,1140.34 871.68,1140.37 872.16,1140.40 872.64,1140.43 873.12,1140.47 873.60,1140.50 874.08,1140.53 874.56,1140.56 875.04,1140.60 875.51,1140.63 875.99,1140.66 876.47,1140.69 876.95,1140.72 877.43,1140.75 877.91,1140.78 878.39,1140.81 878.87,1140.84 879.35,1140.87 879.82,1140.89 880.30,1140.92 880.78,1140.95 881.26,1140.98 881.74,1141.01 882.22,1141.03 882.70,1141.06 883.18,1141.09 883.66,1141.11 884.13,1141.14 884.61,1141.17 885.09,1141.19 885.57,1141.22 886.05,1141.24 886.53,1141.27 887.01,1141.29 887.49,1141.32 887.97,1141.34 888.44,1141.37 888.92,1141.39 889.40,1141.42 889.88,1141.44 890.36,1141.46 890.84,1141.49 891.32,1141.51 891.80,1141.53 892.28,1141.56 892.75,1141.58 893.23,1141.60 893.71,1141.62 894.19,1141.64 894.67,1141.67 895.15,1141.69 895.63,1141.71 896.11,1141.73 896.59,1141.75 897.06,1141.77 897.54,1141.79 898.02,1141.81 898.50,1141.83 898.98,1141.85 899.46,1141.87 899.94,1141.89 900.42,1141.91 900.90,1141.93 901.37,1141.95 901.85,1141.97 902.33,1141.98 902.81,1142.00 903.29,1142.02 903.77,1142.04 904.25,1142.06 904.73,1142.07 905.20,1142.09 905.68,1142.11 906.16,1142.13 906.64,1142.14 907.12,1142.16 907.60,1142.18 908.08,1142.19 908.56,1142.21 909.04,1142.23 909.51,1142.24 909.99,1142.26 910.47,1142.27 910.95,1142.29 911.43,1142.30 911.91,1142.32 912.39,1142.33 912.87,1142.35 913.35,1142.36 913.82,1142.38 914.30,1142.39 914.78,1142.41 915.26,1142.42 915.74,1142.44 916.22,1142.45 916.70,1142.46 917.18,1142.48 917.66,1142.49 918.13,1142.50 918.61,1142.52 919.09,1142.53 919.57,1142.54 920.05,1142.56 920.53,1142.57 921.01,1142.58 921.49,1142.60 921.97,1142.61 922.44,1142.62 922.92,1142.63 923.40,1142.64 923.88,1142.66 924.36,1142.67 924.84,1142.68 925.32,1142.69 925.80,1142.70 926.28,1142.71 926.75,1142.72 927.23,1142.74 927.71,1142.75 928.19,1142.76 928.67,1142.77 929.15,1142.78 929.63,1142.79 930.11,1142.80 930.59,1142.81 931.06,1142.82 931.54,1142.83 932.02,1142.84 932.50,1142.85 932.98,1142.86 933.46,1142.87 933.94,1142.88 934.42,1142.89 934.90,1142.90 935.37,1142.91 935.85,1142.91 936.33,1142.92 936.81,1142.93 937.29,1142.94 937.77,1142.95 938.25,1142.96 938.73,1142.97 939.21,1142.98 939.68,1142.98 940.16,1142.99 940.64,1143.00 941.12,1143.01 941.60,1143.02 942.08,1143.02 942.56,1143.03 943.04,1143.04 943.51,1143.05 943.99,1143.05 944.47,1143.06 944.95,1143.07 945.43,1143.08 945.91,1143.08 946.39,1143.09 946.87,1143.10 947.35,1143.10 947.82,1143.11 948.30,1143.12 948.78,1143.12 949.26,1143.13 949.74,1143.14 950.22,1143.14 950.70,1143.15 951.18,1143.16 951.66,1143.16 952.13,1143.17 952.61,1143.17 953.09,1143.18 953.57,1143.19 954.05,1143.19 954.53,1143.20 955.01,1143.20 955.49,1143.21 955.97,1143.21 956.44,1143.22 956.92,1143.22 957.40,1143.23 957.88,1143.23 958.36,1143.24 958.84,1143.24 959.32,1143.25 959.80,1143.25 960.28,1143.26 960.75,1143.26 961.23,1143.27 961.71,1143.27 962.19,1143.28 962.67,1143.28 963.15,1143.29 963.63,1143.29 964.11,1143.29 964.59,1143.30 965.06,1143.30 965.54,1143.31 966.02,1143.31 966.50,1143.32 966.98,1143.32 967.46,1143.32 967.94,1143.33 968.42,1143.33 968.90,1143.33 969.37,1143.34 969.85,1143.34 970.33,1143.34 970.81,1143.35 971.29,1143.35 971.77,1143.35 972.25,1143.36 972.73,1143.36 973.21,1143.36 973.68,1143.37 974.16,1143.37 974.64,1143.37 975.12,1143.38 975.60,1143.38 976.08,1143.38 976.56,1143.38 977.04,1143.39 977.52,1143.39 977.99,1143.39 978.47,1143.40 978.95,1143.40 979.43,1143.40 979.91,1143.40 980.39,1143.41 980.87,1143.41 981.35,1143.41 981.82,1143.41 982.30,1143.41 982.78,1143.42 983.26,1143.42 983.74,1143.42 984.22,1143.42 984.70,1143.42 985.18,1143.43 985.66,1143.43 986.13,1143.43 986.61,1143.43 987.09,1143.43 987.57,1143.43 988.05,1143.44 988.53,1143.44 989.01,1143.44 989.49,1143.44 989.97,1143.44 990.44,1143.44 990.92,1143.45 991.40,1143.45 991.88,1143.45 992.36,1143.45 992.84,1143.45 993.32,1143.45 993.80,1143.45 994.28,1143.45 994.75,1143.46 995.23,1143.46 995.71,1143.46 996.19,1143.46 996.67,1143.46 997.15,1143.46 997.63,1143.46 998.11,1143.46 998.59,1143.46 999.06,1143.46 999.54,1143.46 1000.02,1143.46 1000.50,1143.47 1000.98,1143.47 1001.46,1143.47 1001.94,1143.47 1002.42,1143.47 1002.90,1143.47 1003.37,1143.47 1003.85,1143.47 1004.33,1143.47 1004.81,1143.47 1005.29,1143.47 1005.77,1143.47 1006.25,1143.47 1006.73,1143.47 1007.21,1143.47 1007.68,1143.47 1008.16,1143.47 1008.64,1143.47 1009.12,1143.47 1009.60,1143.47 1010.08,1143.47 1010.56,1143.47 1011.04,1143.47 1011.52,1143.47 1011.99,1143.47 1012.47,1143.47 1012.95,1143.47 1013.43,1143.47 1013.91,1143.47 1014.39,1143.47 1014.87,1143.47 1015.35,1143.47 1015.83,1143.47 1016.30,1143.47 1016.78,1143.47 1017.26,1143.47 1017.74,1143.47 1018.22,1143.47 1018.70,1143.47 1019.18,1143.47 1019.66,1143.47 1020.13,1143.47 1020.61,1143.47 1021.09,1143.47 1021.57,1143.47 1022.05,1143.46 1022.53,1143.46 1023.01,1143.46 1023.49,1143.46 1023.97,1143.46 1024.44,1143.46 1024.92,1143.46 1025.40,1143.46 1025.88,1143.46 1026.36,1143.46 1026.84,1143.46 1027.32,1143.46 1027.80,1143.46 1028.28,1143.46 1028.75,1143.45 1029.23,1143.45 1029.71,1143.45 1030.19,1143.45 1030.67,1143.45 1031.15,1143.45 1031.63,1143.45 1032.11,1143.45 1032.59,1143.45 1033.06,1143.45 1033.54,1143.44 1034.02,1143.44 1034.50,1143.44 1034.98,1143.44 1035.46,1143.44 1035.94,1143.44 1036.42,1143.44 1036.90,1143.44 1037.37,1143.44 1037.85,1143.43 1038.33,1143.43 1038.81,1143.43 1039.29,1143.43 1039.77,1143.43 1040.25,1143.43 1040.73,1143.43 1041.21,1143.43 1041.68,1143.42 1042.16,1143.42 1042.64,1143.42 1043.12,1143.42 1043.60,1143.42 1044.08,1143.42 1044.56,1143.42 1045.04,1143.42 1045.52,1143.41 1045.99,1143.41 1046.47,1143.41 1046.95,1143.41 1047.43,1143.41 1047.91,1143.41 1048.39,1143.41 1048.87,1143.40 1049.35,1143.40 1049.83,1143.40 1050.30,1143.40 1050.78,1143.40 1051.26,1143.40 1051.74,1143.40 1052.22,1143.39 1052.70,1143.39 1053.18,1143.39 1053.66,1143.39 1054.14,1143.39 1054.61,1143.39 1055.09,1143.38 1055.57,1143.38 1056.05,1143.38 1056.53,1143.38 1057.01,1143.38 1057.49,1143.38 1057.97,1143.37 1058.44,1143.37 1058.92,1143.37 1059.40,1143.37 1059.88,1143.37 1060.36,1143.37 1060.84,1143.36 1061.32,1143.36 1061.80,1143.36 1062.28,1143.36 1062.75,1143.36 1063.23,1143.36 1063.71,1143.35 1064.19,1143.35 1064.67,1143.35 1065.15,1143.35 1065.63,1143.35 1066.11,1143.35 1066.59,1143.34 1067.06,1143.34 1067.54,1143.34 1068.02,1143.34 1068.50,1143.34 1068.98,1143.34 1069.46,1143.33 1069.94,1143.33 1070.42,1143.33 1070.90,1143.33 1071.37,1143.33 1071.85,1143.32 1072.33,1143.32 1072.81,1143.32 1073.29,1143.32 1073.77,1143.32 1074.25,1143.32 1074.73,1143.31 1075.21,1143.31 1075.68,1143.31 1076.16,1143.31 1076.64,1143.31 1077.12,1143.31 1077.60,1143.30" fill="none" stroke="#3adc3a" stroke-width="1.6" stroke-linejoin="round" stroke-linecap="round" />
<polyline points="723.68,946.50 723.71,946.74 724.19,950.28 724.67,953.70 725.15,957.02 725.63,960.23 726.11,963.34 726.58,966.36 727.06,969.28 727.54,972.13 728.02,974.88 728.50,977.56 728.98,980.17 729.46,982.70 729.94,985.16 730.42,987.55 730.89,989.88 731.37,992.15 731.85,994.36 732.33,996.51 732.81,998.61 733.29,1000.65 733.77,1002.65 734.25,1004.59 734.73,1006.49 735.20,1008.34 735.68,1010.14 736.16,1011.91 736.64,1013.63 737.12,1015.31 737.60,1016.96 738.08,1018.56 738.56,1020.13 739.04,1021.67 739.51,1023.17 739.99,1024.64 740.47,1026.08 740.95,1027.49 741.43,1028.86 741.91,1030.21 742.39,1031.53 742.87,1032.83 743.35,1034.10 743.82,1035.34 744.30,1036.56 744.78,1037.75 745.26,1038.92 745.74,1040.07 746.22,1041.19 746.70,1042.29 747.18,1043.38 747.66,1044.44 748.13,1045.48 748.61,1046.50 749.09,1047.51 749.57,1048.49 750.05,1049.46 750.53,1050.41 751.01,1051.35 751.49,1052.26 751.97,1053.16 752.44,1054.05 752.92,1054.92 753.40,1055.77 753.88,1056.61 754.36,1057.44 754.84,1058.25 755.32,1059.05 755.80,1059.84 756.27,1060.61 756.75,1061.37 757.23,1062.12 757.71,1062.85 758.19,1063.58 758.67,1064.29 759.15,1064.99 759.63,1065.68 760.11,1066.36 760.58,1067.03 761.06,1067.69 761.54,1068.34 762.02,1068.98 762.50,1069.60 762.98,1070.22 763.46,1070.83 763.94,1071.44 764.42,1072.03 764.89,1072.61 765.37,1073.19 765.85,1073.75 766.33,1074.31 766.81,1074.86 767.29,1075.40 767.77,1075.94 768.25,1076.47 768.73,1076.99 769.20,1077.50 769.68,1078.00 770.16,1078.50 770.64,1078.99 771.12,1079.48 771.60,1079.96 772.08,1080.43 772.56,1080.89 773.04,1081.35 773.51,1081.81 773.99,1082.25 774.47,1082.69 774.95,1083.13 775.43,1083.56 775.91,1083.98 776.39,1084.40 776.87,1084.81 777.35,1085.22 777.82,1085.62 778.30,1086.02 778.78,1086.41 779.26,1086.80 779.74,1087.18 780.22,1087.56 780.70,1087.93 781.18,1088.30 781.66,1088.66 782.13,1089.02 782.61,1089.38 783.09,1089.73 783.57,1090.07 784.05,1090.41 784.53,1090.75 785.01,1091.08 785.49,1091.41 785.97,1091.74 786.44,1092.06 786.92,1092.38 787.40,1092.69 787.88,1093.00 788.36,1093.31 788.84,1093.61 789.32,1093.91 789.80,1094.21 790.27,1094.50 790.75,1094.79 791.23,1095.08 791.71,1095.36 792.19,1095.64 792.67,1095.92 793.15,1096.19 793.63,1096.46 794.11,1096.73 794.58,1096.99 795.06,1097.25 795.54,1097.51 796.02,1097.76 796.50,1098.02 796.98,1098.27 797.46,1098.51 797.94,1098.76 798.42,1099.00 798.89,1099.24 799.37,1099.47 799.85,1099.71 800.33,1099.94 800.81,1100.16 801.29,1100.39 801.77,1100.61 802.25,1100.84 802.73,1101.05 803.20,1101.27 803.68,1101.48 804.16,1101.70 804.64,1101.91 805.12,1102.11 805.60,1102.32 806.08,1102.52 806.56,1102.72 807.04,1102.92 807.51,1103.12 807.99,1103.31 808.47,1103.50 808.95,1103.70 809.43,1103.88 809.91,1104.07 810.39,1104.26 810.87,1104.44 811.35,1104.62 811.82,1104.80 812.30,1104.98 812.78,1105.15 813.26,1105.32 813.74,1105.50 814.22,1105.67 814.70,1105.83 815.18,1106.00 815.66,1106.17 816.13,1106.33 816.61,1106.49 817.09,1106.65 817.57,1106.81 818.05,1106.97 818.53,1107.12 819.01,1107.27 819.49,1107.43 819.97,1107.58 820.44,1107.73 820.92,1107.87 821.40,1108.02 821.88,1108.16 822.36,1108.31 822.84,1108.45 823.32,1108.59 823.80,1108.73 824.28,1108.87 824.75,1109.00 825.23,1109.14 825.71,1109.27 826.19,1109.40 826.67,1109.53 827.15,1109.66 827.63,1109.79 828.11,1109.92 828.58,1110.05 829.06,1110.17 829.54,1110.29 830.02,1110.42 830.50,1110.54 830.98,1110.66 831.46,1110.78 831.94,1110.89 832.42,1111.01 832.89,1111.13 833.37,1111.24 833.85,1111.35 834.33,1111.46 834.81,1111.58 835.29,1111.69 835.77,1111.79 836.25,1111.90 836.73,1112.01 837.20,1112.11 837.68,1112.22 838.16,1112.32 838.64,1112.43 839.12,1112.53 839.60,1112.63 840.08,1112.73 840.56,1112.83 841.04,1112.92 841.51,1113.02 841.99,1113.12 842.47,1113.21 842.95,1113.31 843.43,1113.40 843.91,1113.49 844.39,1113.58 844.87,1113.67 845.35,1113.76 845.82,1113.85 846.30,1113.94 846.78,1114.03 847.26,1114.11 847.74,1114.20 848.22,1114.28 848.70,1114.37 849.18,1114.45 849.66,1114.53 850.13,1114.61 850.61,1114.69 851.09,1114.77 851.57,1114.85 852.05,1114.93 852.53,1115.01 853.01,1115.08 853.49,1115.16 853.97,1115.24 854.44,1115.31 854.92,1115.38 855.40,1115.46 855.88,1115.53 856.36,1115.60 856.84,1115.67 857.32,1115.74 857.80,1115.81 858.28,1115.88 858.75,1115.95 859.23,1116.02 859.71,1116.08 860.19,1116.15 860.67,1116.22 861.15,1116.28 861.63,1116.35 862.11,1116.41 862.59,1116.47 863.06,1116.53 863.54,1116.60 864.02,1116.66 864.50,1116.72 864.98,1116.78 865.46,1116.84 865.94,1116.90 866.42,1116.95 866.89,1117.01 867.37,1117.07 867.85,1117.13 868.33,1117.18 868.81,1117.24 869.29,1117.29 869.77,1117.35 870.25,1117.40 870.73,1117.45 871.20,1117.51 871.68,1117.56 872.16,1117.61 872.64,1117.66 873.12,1117.71 873.60,1117.76 874.08,1117.81 874.56,1117.86 875.04,1117.91 875.51,1117.96 875.99,1118.00 876.47,1118.05 876.95,1118.10 877.43,1118.14 877.91,1118.19 878.39,1118.23 878.87,1118.28 879.35,1118.32 879.82,1118.37 880.30,1118.41 880.78,1118.45 881.26,1118.49 881.74,1118.54 882.22,1118.58 882.70,1118.62 883.18,1118.66 883.66,1118.70 884.13,1118.74 884.61,1118.78 885.09,1118.82 885.57,1118.86 886.05,1118.89 886.53,1118.93 887.01,1118.97 887.49,1119.00 887.97,1119.04 888.44,1119.08 888.92,1119.11 889.40,1119.15 889.88,1119.18 890.36,1119.22 890.84,1119.25 891.32,1119.28 891.80,1119.32 892.28,1119.35 892.75,1119.38 893.23,1119.41 893.71,1119.44 894.19,1119.48 894.67,1119.51 895.15,1119.54 895.63,1119.57 896.11,1119.60 896.59,1119.63 897.06,1119.66 897.54,1119.68 898.02,1119.71 898.50,1119.74 898.98,1119.77 899.46,1119.80 899.94,1119.82 900.42,1119.85 900.90,1119.88 901.37,1119.90 901.85,1119.93 902.33,1119.95 902.81,1119.98 903.29,1120.00 903.77,1120.03 904.25,1120.05 904.73,1120.07 905.20,1120.10 905.68,1120.12 906.16,1120.14 906.64,1120.17 907.12,1120.19 907.60,1120.21 908.08,1120.23 908.56,1120.25 909.04,1120.27 909.51,1120.29 909.99,1120.31 910.47,1120.33 910.95,1120.35 911.43,1120.37 911.91,1120.39 912.39,1120.41 912.87,1120.43 913.35,1120.45 913.82,1120.47 914.30,1120.48 914.78,1120.50 915.26,1120.52 915.74,1120.53 916.22,1120.55 916.70,1120.57 917.18,1120.58 917.66,1120.60 918.13,1120.62 918.61,1120.63 919.09,1120.65 919.57,1120.66 920.05,1120.68 920.53,1120.69 921.01,1120.70 921.49,1120.72 921.97,1120.73 922.44,1120.74 922.92,1120.76 923.40,1120.77 923.88,1120.78 924.36,1120.79 924.84,1120.81 925.32,1120.82 925.80,1120.83 926.28,1120.84 926.75,1120.85 927.23,1120.86 927.71,1120.87 928.19,1120.88 928.67,1120.90 929.15,1120.91 929.63,1120.91 930.11,1120.92 930.59,1120.93 931.06,1120.94 931.54,1120.95 932.02,1120.96 932.50,1120.97 932.98,1120.98 933.46,1120.99 933.94,1120.99 934.42,1121.00 934.90,1121.01 935.37,1121.01 935.85,1121.02 936.33,1121.03 936.81,1121.04 937.29,1121.04 937.77,1121.05 938.25,1121.05 938.73,1121.06 939.21,1121.06 939.68,1121.07 940.16,1121.08 940.64,1121.08 941.12,1121.08 941.60,1121.09 942.08,1121.09 942.56,1121.10 943.04,1121.10 943.51,1121.11 943.99,1121.11 944.47,1121.11 944.95,1121.12 945.43,1121.12 945.91,1121.12 946.39,1121.12 946.87,1121.13 947.35,1121.13 947.82,1121.13 948.30,1121.13 948.78,1121.14 949.26,1121.14 949.74,1121.14 950.22,1121.14 950.70,1121.14 951.18,1121.14 951.66,1121.14 952.13,1121.14 952.61,1121.14 953.09,1121.14 953.57,1121.14 954.05,1121.14 954.53,1121.14 955.01,1121.14 955.49,1121.14 955.97,1121.14 956.44,1121.14 956.92,1121.14 957.40,1121.14 957.88,1121.14 958.36,1121.14 958.84,1121.13 959.32,1121.13 959.80,1121.13 960.28,1121.13 960.75,1121.12 961.23,1121.12 961.71,1121.12 962.19,1121.12 962.67,1121.11 963.15,1121.11 963.63,1121.11 964.11,1121.10 964.59,1121.10 965.06,1121.10 965.54,1121.09 966.02,1121.09 966.50,1121.09 966.98,1121.08 967.46,1121.08 967.94,1121.07 968.42,1121.07 968.90,1121.06 969.37,1121.06 969.85,1121.05 970.33,1121.05 970.81,1121.04 971.29,1121.04 971.77,1121.03 972.25,1121.02 972.73,1121.02 973.21,1121.01 973.68,1121.01 974.16,1121.00 974.64,1120.99 975.12,1120.99 975.60,1120.98 976.08,1120.97 976.56,1120.97 977.04,1120.96 977.52,1120.95 977.99,1120.94 978.47,1120.94 978.95,1120.93 979.43,1120.92 979.91,1120.91 980.39,1120.91 980.87,1120.90 981.35,1120.89 981.82,1120.88 982.30,1120.87 982.78,1120.86 983.26,1120.86 983.74,1120.85 984.22,1120.84 984.70,1120.83 985.18,1120.82 985.66,1120.81 986.13,1120.80 986.61,1120.79 987.09,1120.78 987.57,1120.77 988.05,1120.76 988.53,1120.75 989.01,1120.74 989.49,1120.73 989.97,1120.72 990.44,1120.71 990.92,1120.70 991.40,1120.69 991.88,1120.68 992.36,1120.67 992.84,1120.66 993.32,1120.65 993.80,1120.64 994.28,1120.62 994.75,1120.61 995.23,1120.60 995.71,1120.59 996.19,1120.58 996.67,1120.57 997.15,1120.55 997.63,1120.54 998.11,1120.53 998.59,1120.52 999.06,1120.51 999.54,1120.49 1000.02,1120.48 1000.50,1120.47 1000.98,1120.46 1001.46,1120.44 1001.94,1120.43 1002.42,1120.42 1002.90,1120.40 1003.37,1120.39 1003.85,1120.38 1004.33,1120.36 1004.81,1120.35 1005.29,1120.34 1005.77,1120.32 1006.25,1120.31 1006.73,1120.30 1007.21,1120.28 1007.68,1120.27 1008.16,1120.25 1008.64,1120.24 1009.12,1120.22 1009.60,1120.21 1010.08,1120.20 1010.56,1120.18 1011.04,1120.17 1011.52,1120.15 1011.99,1120.14 1012.47,1120.12 1012.95,1120.11 1013.43,1120.09 1013.91,1120.08 1014.39,1120.06 1014.87,1120.05 1015.35,1120.03 1015.83,1120.01 1016.30,1120.00 1016.78,1119.98 1017.26,1119.97 1017.74,1119.95 1018.22,1119.94 1018.70,1119.92 1019.18,1119.90 1019.66,1119.89 1020.13,1119.87 1020.61,1119.85 1021.09,1119.84 1021.57,1119.82 1022.05,1119.80 1022.53,1119.79 1023.01,1119.77 1023.49,1119.75 1023.97,1119.74 1024.44,1119.72 1024.92,1119.70 1025.40,1119.69 1025.88,1119.67 1026.36,1119.65 1026.84,1119.63 1027.32,1119.62 1027.80,1119.60 1028.28,1119.58 1028.75,1119.56 1029.23,1119.55 1029.71,1119.53 1030.19,1119.51 1030.67,1119.49 1031.15,1119.47 1031.63,1119.46 1032.11,1119.44 1032.59,1119.42 1033.06,1119.40 1033.54,1119.38 1034.02,1119.36 1034.50,1119.35 1034.98,1119.33 1035.46,1119.31 1035.94,1119.29 1036.42,1119.27 1036.90,1119.25 1037.37,1119.23 1037.85,1119.21 1038.33,1119.19 1038.81,1119.17 1039.29,1119.16 1039.77,1119.14 1040.25,1119.12 1040.73,1119.10 1041.21,1119.08 1041.68,1119.06 1042.16,1119.04 1042.64,1119.02 1043.12,1119.00 1043.60,1118.98 1044.08,1118.96 1044.56,1118.94 1045.04,1118.92 1045.52,1118.90 1045.99,1118.88 1046.47,1118.86 1046.95,1118.84 1047.43,1118.82 1047.91,1118.80 1048.39,1118.78 1048.87,1118.76 1049.35,1118.74 1049.83,1118.71 1050.30,1118.69 1050.78,1118.67 1051.26,1118.65 1051.74,1118.63 1052.22,1118.61 1052.70,1118.59 1053.18,1118.57 1053.66,1118.55 1054.14,1118.53 1054.61,1118.50 1055.09,1118.48 1055.57,1118.46 1056.05,1118.44 1056.53,1118.42 1057.01,1118.40 1057.49,1118.37 1057.97,1118.35 1058.44,1118.33 1058.92,1118.31 1059.40,1118.29 1059.88,1118.27 1060.36,1118.24 1060.84,1118.22 1061.32,1118.20 1061.80,1118.18 1062.28,1118.16 1062.75,1118.13 1063.23,1118.11 1063.71,1118.09 1064.19,1118.07 1064.67,1118.04 1065.15,1118.02 1065.63,1118.00 1066.11,1117.98 1066.59,1117.95 1067.06,1117.93 1067.54,1117.91 1068.02,1117.88 1068.50,1117.86 1068.98,1117.84 1069.46,1117.82 1069.94,1117.79 1070.42,1117.77 1070.90,1117.75 1071.37,1117.72 1071.85,1117.70 1072.33,1117.68 1072.81,1117.65 1073.29,1117.63 1073.77,1117.61 1074.25,1117.58 1074.73,1117.56 1075.21,1117.53 1075.68,1117.51 1076.16,1117.49 1076.64,1117.46 1077.12,1117.44 1077.60,1117.42" fill="none" stroke="#1c1cc8" stroke-width="1.6" stroke-linejoin="round" stroke-linecap="round" />
<polyline points="732.21,946.50 732.33,947.21 732.81,949.87 733.29,952.46 733.77,954.98 734.25,957.44 734.73,959.85 735.20,962.19 735.68,964.48 736.16,966.71 736.64,968.89 737.12,971.02 737.60,973.11 738.08,975.14 738.56,977.13 739.04,979.08 739.51,980.98 739.99,982.84 740.47,984.66 740.95,986.45 741.43,988.19 741.91,989.90 742.39,991.57 742.87,993.21 743.35,994.82 743.82,996.39 744.30,997.93 744.78,999.44 745.26,1000.92 745.74,1002.38 746.22,1003.80 746.70,1005.20 747.18,1006.57 747.66,1007.91 748.13,1009.23 748.61,1010.53 749.09,1011.80 749.57,1013.05 750.05,1014.27 750.53,1015.48 751.01,1016.66 751.49,1017.82 751.97,1018.96 752.44,1020.08 752.92,1021.18 753.40,1022.27 753.88,1023.33 754.36,1024.38 754.84,1025.41 755.32,1026.42 755.80,1027.41 756.27,1028.39 756.75,1029.35 757.23,1030.30 757.71,1031.23 758.19,1032.15 758.67,1033.05 759.15,1033.93 759.63,1034.81 760.11,1035.67 760.58,1036.51 761.06,1037.35 761.54,1038.17 762.02,1038.98 762.50,1039.77 762.98,1040.56 763.46,1041.33 763.94,1042.09 764.42,1042.84 764.89,1043.58 765.37,1044.30 765.85,1045.02 766.33,1045.73 766.81,1046.42 767.29,1047.11 767.77,1047.78 768.25,1048.45 768.73,1049.11 769.20,1049.76 769.68,1050.40 770.16,1051.03 770.64,1051.65 771.12,1052.26 771.60,1052.87 772.08,1053.46 772.56,1054.05 773.04,1054.63 773.51,1055.20 773.99,1055.77 774.47,1056.33 774.95,1056.88 775.43,1057.42 775.91,1057.96 776.39,1058.48 776.87,1059.01 777.35,1059.52 777.82,1060.03 778.30,1060.53 778.78,1061.03 779.26,1061.52 779.74,1062.00 780.22,1062.48 780.70,1062.95 781.18,1063.41 781.66,1063.87 782.13,1064.33 782.61,1064.77 783.09,1065.22 783.57,1065.65 784.05,1066.08 784.53,1066.51 785.01,1066.93 785.49,1067.35 785.97,1067.76 786.44,1068.17 786.92,1068.57 787.40,1068.96 787.88,1069.36 788.36,1069.74 788.84,1070.13 789.32,1070.50 789.80,1070.88 790.27,1071.25 790.75,1071.61 791.23,1071.97 791.71,1072.33 792.19,1072.68 792.67,1073.03 793.15,1073.38 793.63,1073.72 794.11,1074.05 794.58,1074.39 795.06,1074.72 795.54,1075.04 796.02,1075.36 796.50,1075.68 796.98,1076.00 797.46,1076.31 797.94,1076.62 798.42,1076.92 798.89,1077.22 799.37,1077.52 799.85,1077.81 800.33,1078.11 800.81,1078.39 801.29,1078.68 801.77,1078.96 802.25,1079.24 802.73,1079.51 803.20,1079.79 803.68,1080.06 804.16,1080.32 804.64,1080.59 805.12,1080.85 805.60,1081.11 806.08,1081.36 806.56,1081.62 807.04,1081.87 807.51,1082.11 807.99,1082.36 808.47,1082.60 808.95,1082.84 809.43,1083.08 809.91,1083.31 810.39,1083.55 810.87,1083.78 811.35,1084.01 811.82,1084.23 812.30,1084.45 812.78,1084.67 813.26,1084.89 813.74,1085.11 814.22,1085.32 814.70,1085.53 815.18,1085.74 815.66,1085.95 816.13,1086.16 816.61,1086.36 817.09,1086.56 817.57,1086.76 818.05,1086.96 818.53,1087.15 819.01,1087.35 819.49,1087.54 819.97,1087.73 820.44,1087.91 820.92,1088.10 821.40,1088.28 821.88,1088.46 822.36,1088.64 822.84,1088.82 823.32,1089.00 823.80,1089.17 824.28,1089.35 824.75,1089.52 825.23,1089.69 825.71,1089.85 826.19,1090.02 826.67,1090.19 827.15,1090.35 827.63,1090.51 828.11,1090.67 828.58,1090.83 829.06,1090.98 829.54,1091.14 830.02,1091.29 830.50,1091.44 830.98,1091.59 831.46,1091.74 831.94,1091.89 832.42,1092.04 832.89,1092.18 833.37,1092.32 833.85,1092.47 834.33,1092.61 834.81,1092.74 835.29,1092.88 835.77,1093.02 836.25,1093.15 836.73,1093.29 837.20,1093.42 837.68,1093.55 838.16,1093.68 838.64,1093.81 839.12,1093.94 839.60,1094.06 840.08,1094.19 840.56,1094.31 841.04,1094.43 841.51,1094.55 841.99,1094.67 842.47,1094.79 842.95,1094.91 843.43,1095.03 843.91,1095.14 844.39,1095.25 844.87,1095.37 845.35,1095.48 845.82,1095.59 846.30,1095.70 846.78,1095.81 847.26,1095.92 847.74,1096.02 848.22,1096.13 848.70,1096.23 849.18,1096.34 849.66,1096.44 850.13,1096.54 850.61,1096.64 851.09,1096.74 851.57,1096.84 852.05,1096.94 852.53,1097.03 853.01,1097.13 853.49,1097.22 853.97,1097.32 854.44,1097.41 854.92,1097.50 855.40,1097.59 855.88,1097.68 856.36,1097.77 856.84,1097.86 857.32,1097.95 857.80,1098.03 858.28,1098.12 858.75,1098.20 859.23,1098.29 859.71,1098.37 860.19,1098.45 860.67,1098.53 861.15,1098.62 861.63,1098.69 862.11,1098.77 862.59,1098.85 863.06,1098.93 863.54,1099.01 864.02,1099.08 864.50,1099.16 864.98,1099.23 865.46,1099.30 865.94,1099.38 866.42,1099.45 866.89,1099.52 867.37,1099.59 867.85,1099.66 868.33,1099.73 868.81,1099.80 869.29,1099.87 869.77,1099.93 870.25,1100.00 870.73,1100.07 871.20,1100.13 871.68,1100.19 872.16,1100.26 872.64,1100.32 873.12,1100.38 873.60,1100.45 874.08,1100.51 874.56,1100.57 875.04,1100.63 875.51,1100.69 875.99,1100.74 876.47,1100.80 876.95,1100.86 877.43,1100.91 877.91,1100.97 878.39,1101.03 878.87,1101.08 879.35,1101.13 879.82,1101.19 880.30,1101.24 880.78,1101.29 881.26,1101.35 881.74,1101.40 882.22,1101.45 882.70,1101.50 883.18,1101.55 883.66,1101.60 884.13,1101.64 884.61,1101.69 885.09,1101.74 885.57,1101.79 886.05,1101.83 886.53,1101.88 887.01,1101.92 887.49,1101.97 887.97,1102.01 888.44,1102.05 888.92,1102.10 889.40,1102.14 889.88,1102.18 890.36,1102.22 890.84,1102.26 891.32,1102.31 891.80,1102.35 892.28,1102.39 892.75,1102.42 893.23,1102.46 893.71,1102.50 894.19,1102.54 894.67,1102.58 895.15,1102.61 895.63,1102.65 896.11,1102.68 896.59,1102.72 897.06,1102.75 897.54,1102.79 898.02,1102.82 898.50,1102.86 898.98,1102.89 899.46,1102.92 899.94,1102.95 900.42,1102.99 900.90,1103.02 901.37,1103.05 901.85,1103.08 902.33,1103.11 902.81,1103.14 903.29,1103.17 903.77,1103.20 904.25,1103.23 904.73,1103.25 905.20,1103.28 905.68,1103.31 906.16,1103.34 906.64,1103.36 907.12,1103.39 907.60,1103.41 908.08,1103.44 908.56,1103.46 909.04,1103.49 909.51,1103.51 909.99,1103.54 910.47,1103.56 910.95,1103.58 911.43,1103.60 911.91,1103.63 912.39,1103.65 912.87,1103.67 913.35,1103.69 913.82,1103.71 914.30,1103.73 914.78,1103.75 915.26,1103.77 915.74,1103.79 916.22,1103.81 916.70,1103.83 917.18,1103.85 917.66,1103.87 918.13,1103.88 918.61,1103.90 919.09,1103.92 919.57,1103.94 920.05,1103.95 920.53,1103.97 921.01,1103.98 921.49,1104.00 921.97,1104.01 922.44,1104.03 922.92,1104.04 923.40,1104.06 923.88,1104.07 924.36,1104.09 924.84,1104.10 925.32,1104.11 925.80,1104.12 926.28,1104.14 926.75,1104.15 927.23,1104.16 927.71,1104.17 928.19,1104.18 928.67,1104.19 929.15,1104.20 929.63,1104.21 930.11,1104.22 930.59,1104.23 931.06,1104.24 931.54,1104.25 932.02,1104.26 932.50,1104.27 932.98,1104.28 933.46,1104.29 933.94,1104.29 934.42,1104.30 934.90,1104.31 935.37,1104.32 935.85,1104.32 936.33,1104.33 936.81,1104.34 937.29,1104.34 937.77,1104.35 938.25,1104.35 938.73,1104.36 939.21,1104.36 939.68,1104.37 940.16,1104.37 940.64,1104.38 941.12,1104.38 941.60,1104.38 942.08,1104.39 942.56,1104.39 943.04,1104.39 943.51,1104.40 943.99,1104.40 944.47,1104.40 944.95,1104.40 945.43,1104.40 945.91,1104.41 946.39,1104.41 946.87,1104.41 947.35,1104.41 947.82,1104.41 948.30,1104.41 948.78,1104.41 949.26,1104.41 949.74,1104.41 950.22,1104.41 950.70,1104.41 951.18,1104.41 951.66,1104.41 952.13,1104.40 952.61,1104.40 953.09,1104.40 953.57,1104.40 954.05,1104.40 954.53,1104.39 955.01,1104.39 955.49,1104.39 955.97,1104.38 956.44,1104.38 956.92,1104.38 957.40,1104.37 957.88,1104.37 958.36,1104.37 958.84,1104.36 959.32,1104.36 959.80,1104.35 960.28,1104.35 960.75,1104.34 961.23,1104.34 961.71,1104.33 962.19,1104.32 962.67,1104.32 963.15,1104.31 963.63,1104.31 964.11,1104.30 964.59,1104.29 965.06,1104.29 965.54,1104.28 966.02,1104.27 966.50,1104.26 966.98,1104.26 967.46,1104.25 967.94,1104.24 968.42,1104.23 968.90,1104.22 969.37,1104.22 969.85,1104.21 970.33,1104.20 970.81,1104.19 971.29,1104.18 971.77,1104.17 972.25,1104.16 972.73,1104.15 973.21,1104.14 973.68,1104.13 974.16,1104.12 974.64,1104.11 975.12,1104.10 975.60,1104.09 976.08,1104.08 976.56,1104.07 977.04,1104.06 977.52,1104.04 977.99,1104.03 978.47,1104.02 978.95,1104.01 979.43,1104.00 979.91,1103.98 980.39,1103.97 980.87,1103.96 981.35,1103.95 981.82,1103.93 982.30,1103.92 982.78,1103.91 983.26,1103.89 983.74,1103.88 984.22,1103.87 984.70,1103.85 985.18,1103.84 985.66,1103.82 986.13,1103.81 986.61,1103.80 987.09,1103.78 987.57,1103.77 988.05,1103.75 988.53,1103.74 989.01,1103.72 989.49,1103.71 989.97,1103.69 990.44,1103.68 990.92,1103.66 991.40,1103.64 991.88,1103.63 992.36,1103.61 992.84,1103.60 993.32,1103.58 993.80,1103.56 994.28,1103.55 994.75,1103.53 995.23,1103.51 995.71,1103.50 996.19,1103.48 996.67,1103.46 997.15,1103.44 997.63,1103.43 998.11,1103.41 998.59,1103.39 999.06,1103.37 999.54,1103.35 1000.02,1103.34 1000.50,1103.32 1000.98,1103.30 1001.46,1103.28 1001.94,1103.26 1002.42,1103.24 1002.90,1103.22 1003.37,1103.20 1003.85,1103.18 1004.33,1103.17 1004.81,1103.15 1005.29,1103.13 1005.77,1103.11 1006.25,1103.09 1006.73,1103.07 1007.21,1103.05 1007.68,1103.03 1008.16,1103.01 1008.64,1102.99 1009.12,1102.96 1009.60,1102.94 1010.08,1102.92 1010.56,1102.90 1011.04,1102.88 1011.52,1102.86 1011.99,1102.84 1012.47,1102.82 1012.95,1102.80 1013.43,1102.77 1013.91,1102.75 1014.39,1102.73 1014.87,1102.71 1015.35,1102.69 1015.83,1102.66 1016.30,1102.64 1016.78,1102.62 1017.26,1102.60 1017.74,1102.57 1018.22,1102.55 1018.70,1102.53 1019.18,1102.51 1019.66,1102.48 1020.13,1102.46 1020.61,1102.44 1021.09,1102.41 1021.57,1102.39 1022.05,1102.37 1022.53,1102.34 1023.01,1102.32 1023.49,1102.29 1023.97,1102.27 1024.44,1102.25 1024.92,1102.22 1025.40,1102.20 1025.88,1102.17 1026.36,1102.15 1026.84,1102.12 1027.32,1102.10 1027.80,1102.08 1028.28,1102.05 1028.75,1102.03 1029.23,1102.00 1029.71,1101.97 1030.19,1101.95 1030.67,1101.92 1031.15,1101.90 1031.63,1101.87 1032.11,1101.85 1032.59,1101.82 1033.06,1101.80 1033.54,1101.77 1034.02,1101.74 1034.50,1101.72 1034.98,1101.69 1035.46,1101.67 1035.94,1101.64 1036.42,1101.61 1036.90,1101.59 1037.37,1101.56 1037.85,1101.53 1038.33,1101.51 1038.81,1101.48 1039.29,1101.45 1039.77,1101.42 1040.25,1101.40 1040.73,1101.37 1041.21,1101.34 1041.68,1101.32 1042.16,1101.29 1042.64,1101.26 1043.12,1101.23 1043.60,1101.20 1044.08,1101.18 1044.56,1101.15 1045.04,1101.12 1045.52,1101.09 1045.99,1101.06 1046.47,1101.04 1046.95,1101.01 1047.43,1100.98 1047.91,1100.95 1048.39,1100.92 1048.87,1100.89 1049.35,1100.86 1049.83,1100.84 1050.30,1100.81 1050.78,1100.78 1051.26,1100.75 1051.74,1100.72 1052.22,1100.69 1052.70,1100.66 1053.18,1100.63 1053.66,1100.60 1054.14,1100.57 1054.61,1100.54 1055.09,1100.51 1055.57,1100.48 1056.05,1100.45 1056.53,1100.42 1057.01,1100.39 1057.49,1100.36 1057.97,1100.33 1058.44,1100.30 1058.92,1100.27 1059.40,1100.24 1059.88,1100.21 1060.36,1100.18 1060.84,1100.15 1061.32,1100.12 1061.80,1100.09 1062.28,1100.06 1062.75,1100.03 1063.23,1100.00 1063.71,1099.96 1064.19,1099.93 1064.67,1099.90 1065.15,1099.87 1065.63,1099.84 1066.11,1099.81 1066.59,1099.78 1067.06,1099.74 1067.54,1099.71 1068.02,1099.68 1068.50,1099.65 1068.98,1099.62 1069.46,1099.59 1069.94,1099.55 1070.42,1099.52 1070.90,1099.49 1071.37,1099.46 1071.85,1099.43 1072.33,1099.39 1072.81,1099.36 1073.29,1099.33 1073.77,1099.30 1074.25,1099.26 1074.73,1099.23 1075.21,1099.20 1075.68,1099.16 1076.16,1099.13 1076.64,1099.10 1077.12,1099.07 1077.60,1099.03" fill="none" stroke="#6a1a6a" stroke-width="1.6" stroke-linejoin="round" stroke-linecap="round" />
<rect x="823.00" y="1014.60" width="119.00" height="58.00" stroke="#8a8a8a" stroke-width="1" fill="#fff" />
<line x1="843.60" y1="1021.60" x2="856.00" y2="1021.60" stroke="#d8344e" stroke-width="1.7" />
<text x="857.00" y="1024.80" font-size="8.457" font-weight="normal" fill="#111" >9 kHz to 50 MHz</text>
<line x1="843.60" y1="1036.40" x2="856.00" y2="1036.40" stroke="#3cc83c" stroke-width="1.7" />
<text x="857.00" y="1039.60" font-size="8.422" font-weight="normal" fill="#111" >50 MHz to 2 GHz</text>
<line x1="843.60" y1="1050.60" x2="856.00" y2="1050.60" stroke="#3a30d8" stroke-width="1.7" />
<text x="857.00" y="1053.80" font-size="8.442" font-weight="normal" fill="#111" >2 GHz to 8 GHz</text>
<line x1="843.60" y1="1065.00" x2="856.00" y2="1065.00" stroke="#4e1a4c" stroke-width="1.7" />
<text x="857.00" y="1068.20" font-size="8.444" font-weight="normal" fill="#111" >8 GHz to 20 GHz</text>
<rect x="840.30" y="951.50" width="229.10" height="12.80" stroke="#7a7a7a" stroke-width="1" fill="#fff" />
<text x="842.80" y="961.00" font-size="8.203" font-weight="normal" fill="#111" >S21 = S12 = 0; Cal power = -10 dBm; Meas power = -10 dBm</text>
<rect x="911.70" y="967.30" width="157.70" height="13.00" stroke="#7a7a7a" stroke-width="1" fill="#fff" />
<text x="914.00" y="976.80" font-size="8.134" font-weight="normal" fill="#111" >IF Bandwidth = 10 Hz; Average Factor = 1</text>
<rect x="781.90" y="929.60" width="208.70" height="14.20" stroke="#9a9a9a" stroke-width="1" fill="#fff" />
<text x="784.20" y="940.60" font-size="10.261" font-weight="normal" fill="#111" >E5080B 4K0/140 with 85052D Calibration Kit</text>
<text x="815.40" y="920.00" font-size="12.601" font-weight="bold" fill="#000" >S11 Phase Accuracy</text>
<text x="679.50" y="1179.00" font-size="11.000" font-weight="normal" fill="#111" >0</text>
<text x="679.50" y="1133.30" font-size="11.000" font-weight="normal" fill="#111" >2</text>
<text x="679.50" y="1087.60" font-size="11.000" font-weight="normal" fill="#111" >4</text>
<text x="679.50" y="1041.90" font-size="11.000" font-weight="normal" fill="#111" >6</text>
<text x="679.50" y="996.20" font-size="11.000" font-weight="normal" fill="#111" >8</text>
<text x="673.39" y="950.50" font-size="11.000" font-weight="normal" fill="#111" >10</text>
<text x="691.59" y="1192.00" font-size="10.500" font-weight="normal" fill="#111" >0</text>
<text x="763.82" y="1192.00" font-size="10.500" font-weight="normal" fill="#111" >0.2</text>
<text x="840.44" y="1192.00" font-size="10.500" font-weight="normal" fill="#111" >0.4</text>
<text x="917.06" y="1192.00" font-size="10.500" font-weight="normal" fill="#111" >0.6</text>
<text x="993.68" y="1192.00" font-size="10.500" font-weight="normal" fill="#111" >0.8</text>
<text x="1074.69" y="1192.00" font-size="10.500" font-weight="normal" fill="#111" >1</text>
<text x="797.00" y="1209.00" font-size="11.480" font-weight="bold" fill="#000" >Reflection Coefficient (Linear)</text>
<g transform="translate(661.0,1058.6) rotate(-90)">
<text x="-62.00" y="0.00" font-size="11.935" font-weight="bold" fill="#000" >Uncertainty (Degrees)</text>
</g>
</svg>
</body></html>
